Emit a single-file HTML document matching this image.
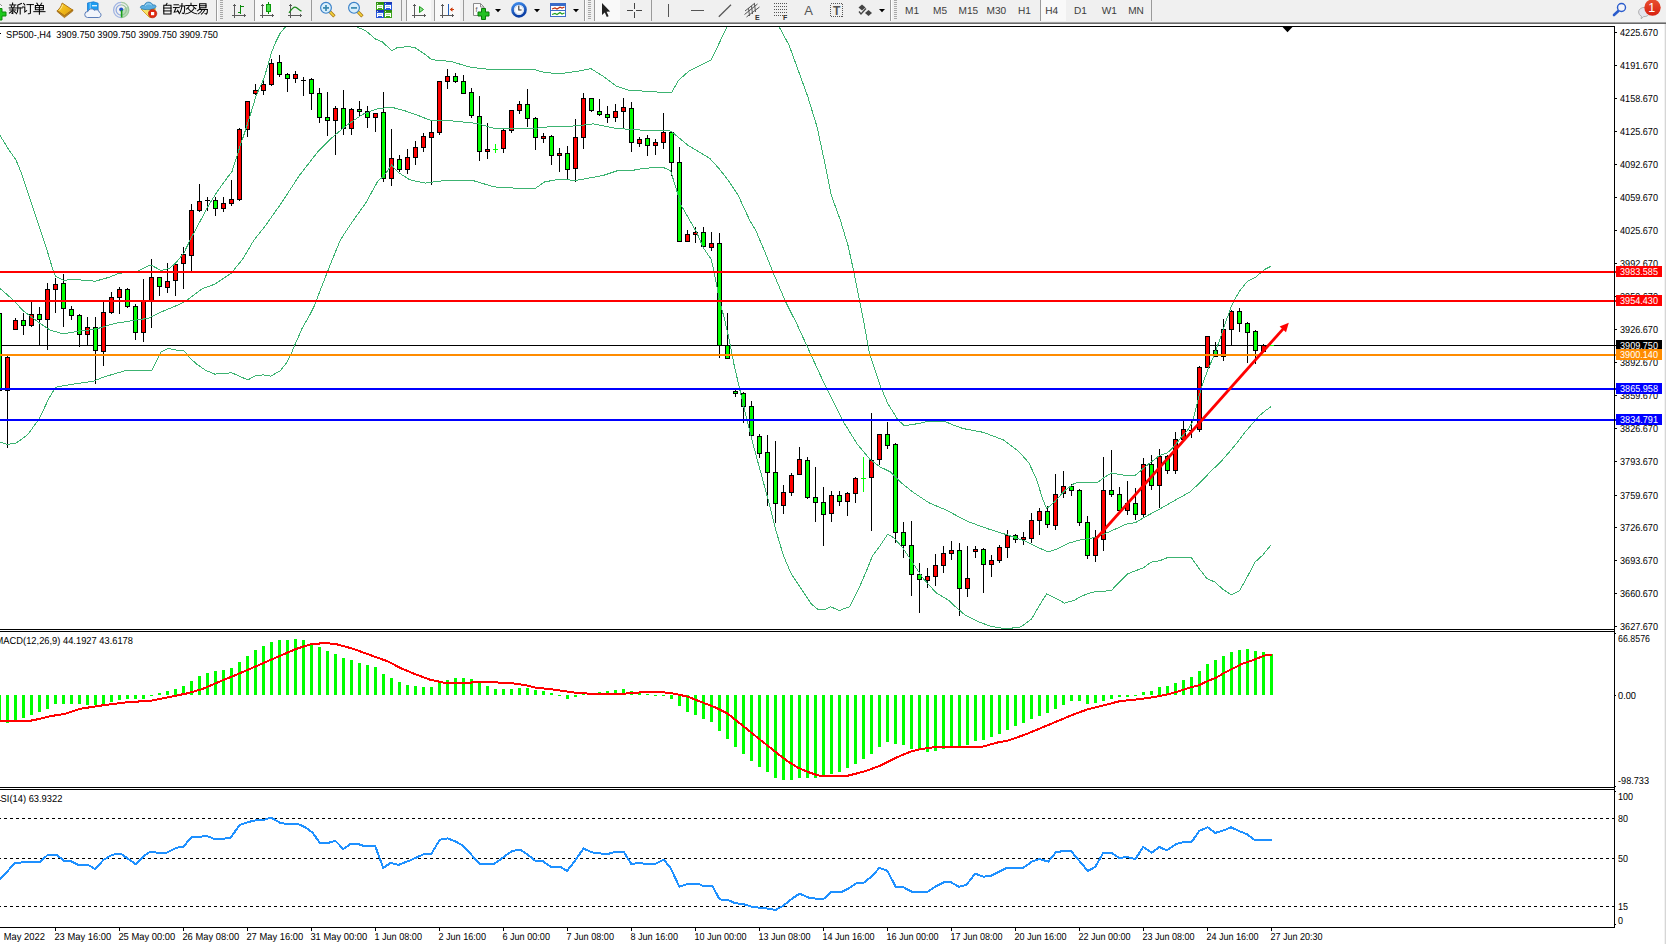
<!DOCTYPE html><html><head><meta charset="utf-8"><title>SP500 H4</title><style>html,body{margin:0;padding:0;background:#fff;overflow:hidden}body{width:1666px;height:944px;position:relative}svg{position:absolute;left:0;top:0;font-family:"Liberation Sans",sans-serif}</style></head><body>
<svg width="1666" height="944" viewBox="0 0 1666 944">
<g shape-rendering="crispEdges">
<rect x="0" y="26" width="1615" height="1" fill="#000"/>
<rect x="1614" y="26" width="1" height="902" fill="#000"/>
<rect x="0" y="629" width="1615" height="1" fill="#000"/>
<rect x="0" y="631" width="1615" height="1" fill="#000"/>
<rect x="0" y="787" width="1615" height="1" fill="#000"/>
<rect x="0" y="789" width="1615" height="1" fill="#000"/>
<rect x="0" y="927" width="1615" height="1" fill="#000"/>
</g>
<defs><clipPath id="cm"><rect x="0" y="27" width="1614" height="602"/></clipPath></defs>
<g shape-rendering="crispEdges">
<rect x="0" y="345" width="1616" height="1" fill="#000"/>
</g>
<g clip-path="url(#cm)" shape-rendering="crispEdges">
<rect x="-1" y="313" width="1" height="78" fill="#000"/>
<rect x="-3" y="313" width="5" height="78" fill="#000"/>
<rect x="-2" y="314" width="3" height="76" fill="#00ff00"/>
<rect x="7" y="356" width="1" height="92" fill="#000"/>
<rect x="5" y="357" width="5" height="34" fill="#000"/>
<rect x="6" y="358" width="3" height="32" fill="#ff0000"/>
<rect x="15" y="318" width="1" height="12" fill="#000"/>
<rect x="13" y="320" width="5" height="10" fill="#000"/>
<rect x="14" y="321" width="3" height="8" fill="#ff0000"/>
<rect x="23" y="313" width="1" height="22" fill="#000"/>
<rect x="21" y="320" width="5" height="6" fill="#000"/>
<rect x="22" y="321" width="3" height="4" fill="#00ff00"/>
<rect x="31" y="302" width="1" height="25" fill="#000"/>
<rect x="29" y="314" width="5" height="12" fill="#000"/>
<rect x="30" y="315" width="3" height="10" fill="#ff0000"/>
<rect x="39" y="307" width="1" height="38" fill="#000"/>
<rect x="37" y="314" width="5" height="6" fill="#000"/>
<rect x="38" y="315" width="3" height="4" fill="#00ff00"/>
<rect x="47" y="283" width="1" height="67" fill="#000"/>
<rect x="45" y="289" width="5" height="31" fill="#000"/>
<rect x="46" y="290" width="3" height="29" fill="#ff0000"/>
<rect x="55" y="278" width="1" height="35" fill="#000"/>
<rect x="53" y="284" width="5" height="6" fill="#000"/>
<rect x="54" y="285" width="3" height="4" fill="#ff0000"/>
<rect x="63" y="274" width="1" height="53" fill="#000"/>
<rect x="61" y="283" width="5" height="26" fill="#000"/>
<rect x="62" y="284" width="3" height="24" fill="#00ff00"/>
<rect x="71" y="306" width="1" height="14" fill="#000"/>
<rect x="69" y="309" width="5" height="7" fill="#000"/>
<rect x="70" y="310" width="3" height="5" fill="#00ff00"/>
<rect x="79" y="314" width="1" height="33" fill="#000"/>
<rect x="77" y="315" width="5" height="20" fill="#000"/>
<rect x="78" y="316" width="3" height="18" fill="#00ff00"/>
<rect x="87" y="317" width="1" height="28" fill="#000"/>
<rect x="85" y="327" width="5" height="8" fill="#000"/>
<rect x="86" y="328" width="3" height="6" fill="#ff0000"/>
<rect x="95" y="317" width="1" height="67" fill="#000"/>
<rect x="93" y="327" width="5" height="24" fill="#000"/>
<rect x="94" y="328" width="3" height="22" fill="#00ff00"/>
<rect x="103" y="302" width="1" height="64" fill="#000"/>
<rect x="101" y="312" width="5" height="40" fill="#000"/>
<rect x="102" y="313" width="3" height="38" fill="#ff0000"/>
<rect x="111" y="292" width="1" height="22" fill="#000"/>
<rect x="109" y="297" width="5" height="16" fill="#000"/>
<rect x="110" y="298" width="3" height="14" fill="#ff0000"/>
<rect x="119" y="287" width="1" height="27" fill="#000"/>
<rect x="117" y="289" width="5" height="9" fill="#000"/>
<rect x="118" y="290" width="3" height="7" fill="#ff0000"/>
<rect x="127" y="288" width="1" height="20" fill="#000"/>
<rect x="125" y="289" width="5" height="18" fill="#000"/>
<rect x="126" y="290" width="3" height="16" fill="#00ff00"/>
<rect x="135" y="304" width="1" height="36" fill="#000"/>
<rect x="133" y="306" width="5" height="27" fill="#000"/>
<rect x="134" y="307" width="3" height="25" fill="#00ff00"/>
<rect x="143" y="279" width="1" height="63" fill="#000"/>
<rect x="141" y="300" width="5" height="33" fill="#000"/>
<rect x="142" y="301" width="3" height="31" fill="#ff0000"/>
<rect x="151" y="259" width="1" height="69" fill="#000"/>
<rect x="149" y="277" width="5" height="24" fill="#000"/>
<rect x="150" y="278" width="3" height="22" fill="#ff0000"/>
<rect x="159" y="277" width="1" height="19" fill="#000"/>
<rect x="157" y="277" width="5" height="10" fill="#000"/>
<rect x="158" y="278" width="3" height="8" fill="#00ff00"/>
<rect x="167" y="263" width="1" height="30" fill="#000"/>
<rect x="165" y="281" width="5" height="7" fill="#000"/>
<rect x="166" y="282" width="3" height="5" fill="#ff0000"/>
<rect x="175" y="263" width="1" height="33" fill="#000"/>
<rect x="173" y="264" width="5" height="17" fill="#000"/>
<rect x="174" y="265" width="3" height="15" fill="#ff0000"/>
<rect x="183" y="247" width="1" height="42" fill="#000"/>
<rect x="181" y="254" width="5" height="10" fill="#000"/>
<rect x="182" y="255" width="3" height="8" fill="#ff0000"/>
<rect x="191" y="204" width="1" height="67" fill="#000"/>
<rect x="189" y="210" width="5" height="46" fill="#000"/>
<rect x="190" y="211" width="3" height="44" fill="#ff0000"/>
<rect x="199" y="184" width="1" height="28" fill="#000"/>
<rect x="197" y="201" width="5" height="10" fill="#000"/>
<rect x="198" y="202" width="3" height="8" fill="#ff0000"/>
<rect x="207" y="197" width="1" height="14" fill="#000"/>
<rect x="205" y="200" width="5" height="1" fill="#000"/>
<rect x="215" y="197" width="1" height="19" fill="#000"/>
<rect x="213" y="200" width="5" height="9" fill="#000"/>
<rect x="214" y="201" width="3" height="7" fill="#00ff00"/>
<rect x="223" y="197" width="1" height="15" fill="#000"/>
<rect x="221" y="203" width="5" height="6" fill="#000"/>
<rect x="222" y="204" width="3" height="4" fill="#ff0000"/>
<rect x="231" y="180" width="1" height="26" fill="#000"/>
<rect x="229" y="199" width="5" height="5" fill="#000"/>
<rect x="230" y="200" width="3" height="3" fill="#ff0000"/>
<rect x="239" y="128" width="1" height="73" fill="#000"/>
<rect x="237" y="129" width="5" height="71" fill="#000"/>
<rect x="238" y="130" width="3" height="69" fill="#ff0000"/>
<rect x="247" y="101" width="1" height="36" fill="#000"/>
<rect x="245" y="101" width="5" height="29" fill="#000"/>
<rect x="246" y="102" width="3" height="27" fill="#ff0000"/>
<rect x="255" y="84" width="1" height="11" fill="#000"/>
<rect x="253" y="90" width="5" height="4" fill="#000"/>
<rect x="254" y="91" width="3" height="2" fill="#ff0000"/>
<rect x="263" y="79" width="1" height="16" fill="#000"/>
<rect x="261" y="84" width="5" height="7" fill="#000"/>
<rect x="262" y="85" width="3" height="5" fill="#ff0000"/>
<rect x="271" y="59" width="1" height="27" fill="#000"/>
<rect x="269" y="63" width="5" height="22" fill="#000"/>
<rect x="270" y="64" width="3" height="20" fill="#ff0000"/>
<rect x="279" y="55" width="1" height="22" fill="#000"/>
<rect x="277" y="62" width="5" height="13" fill="#000"/>
<rect x="278" y="63" width="3" height="11" fill="#00ff00"/>
<rect x="287" y="73" width="1" height="19" fill="#000"/>
<rect x="285" y="74" width="5" height="5" fill="#000"/>
<rect x="286" y="75" width="3" height="3" fill="#00ff00"/>
<rect x="295" y="71" width="1" height="12" fill="#000"/>
<rect x="293" y="74" width="5" height="5" fill="#000"/>
<rect x="294" y="75" width="3" height="3" fill="#ff0000"/>
<rect x="303" y="77" width="1" height="19" fill="#000"/>
<rect x="301" y="80" width="5" height="1" fill="#000"/>
<rect x="311" y="78" width="1" height="32" fill="#000"/>
<rect x="309" y="79" width="5" height="15" fill="#000"/>
<rect x="310" y="80" width="3" height="13" fill="#00ff00"/>
<rect x="319" y="88" width="1" height="35" fill="#000"/>
<rect x="317" y="93" width="5" height="25" fill="#000"/>
<rect x="318" y="94" width="3" height="23" fill="#00ff00"/>
<rect x="327" y="92" width="1" height="44" fill="#000"/>
<rect x="325" y="117" width="5" height="4" fill="#000"/>
<rect x="326" y="118" width="3" height="2" fill="#00ff00"/>
<rect x="335" y="106" width="1" height="49" fill="#000"/>
<rect x="333" y="108" width="5" height="13" fill="#000"/>
<rect x="334" y="109" width="3" height="11" fill="#ff0000"/>
<rect x="343" y="90" width="1" height="45" fill="#000"/>
<rect x="341" y="108" width="5" height="21" fill="#000"/>
<rect x="342" y="109" width="3" height="19" fill="#00ff00"/>
<rect x="351" y="108" width="1" height="27" fill="#000"/>
<rect x="349" y="109" width="5" height="20" fill="#000"/>
<rect x="350" y="110" width="3" height="18" fill="#ff0000"/>
<rect x="359" y="101" width="1" height="15" fill="#000"/>
<rect x="357" y="109" width="5" height="3" fill="#000"/>
<rect x="358" y="110" width="3" height="1" fill="#00ff00"/>
<rect x="367" y="106" width="1" height="22" fill="#000"/>
<rect x="365" y="111" width="5" height="7" fill="#000"/>
<rect x="366" y="112" width="3" height="5" fill="#00ff00"/>
<rect x="375" y="113" width="1" height="19" fill="#000"/>
<rect x="373" y="113" width="5" height="5" fill="#000"/>
<rect x="374" y="114" width="3" height="3" fill="#ff0000"/>
<rect x="383" y="92" width="1" height="90" fill="#000"/>
<rect x="381" y="112" width="5" height="67" fill="#000"/>
<rect x="382" y="113" width="3" height="65" fill="#00ff00"/>
<rect x="391" y="129" width="1" height="57" fill="#000"/>
<rect x="389" y="158" width="5" height="21" fill="#000"/>
<rect x="390" y="159" width="3" height="19" fill="#ff0000"/>
<rect x="399" y="155" width="1" height="17" fill="#000"/>
<rect x="397" y="159" width="5" height="11" fill="#000"/>
<rect x="398" y="160" width="3" height="9" fill="#00ff00"/>
<rect x="407" y="149" width="1" height="25" fill="#000"/>
<rect x="405" y="157" width="5" height="13" fill="#000"/>
<rect x="406" y="158" width="3" height="11" fill="#ff0000"/>
<rect x="415" y="141" width="1" height="24" fill="#000"/>
<rect x="413" y="147" width="5" height="11" fill="#000"/>
<rect x="414" y="148" width="3" height="9" fill="#ff0000"/>
<rect x="423" y="133" width="1" height="19" fill="#000"/>
<rect x="421" y="136" width="5" height="12" fill="#000"/>
<rect x="422" y="137" width="3" height="10" fill="#ff0000"/>
<rect x="431" y="121" width="1" height="64" fill="#000"/>
<rect x="429" y="132" width="5" height="6" fill="#000"/>
<rect x="430" y="133" width="3" height="4" fill="#ff0000"/>
<rect x="439" y="81" width="1" height="54" fill="#000"/>
<rect x="437" y="81" width="5" height="52" fill="#000"/>
<rect x="438" y="82" width="3" height="50" fill="#ff0000"/>
<rect x="447" y="69" width="1" height="20" fill="#000"/>
<rect x="445" y="76" width="5" height="6" fill="#000"/>
<rect x="446" y="77" width="3" height="4" fill="#ff0000"/>
<rect x="455" y="73" width="1" height="10" fill="#000"/>
<rect x="453" y="76" width="5" height="6" fill="#000"/>
<rect x="454" y="77" width="3" height="4" fill="#00ff00"/>
<rect x="463" y="75" width="1" height="19" fill="#000"/>
<rect x="461" y="81" width="5" height="13" fill="#000"/>
<rect x="462" y="82" width="3" height="11" fill="#00ff00"/>
<rect x="471" y="88" width="1" height="30" fill="#000"/>
<rect x="469" y="92" width="5" height="24" fill="#000"/>
<rect x="470" y="93" width="3" height="22" fill="#00ff00"/>
<rect x="479" y="96" width="1" height="65" fill="#000"/>
<rect x="477" y="116" width="5" height="36" fill="#000"/>
<rect x="478" y="117" width="3" height="34" fill="#00ff00"/>
<rect x="487" y="123" width="1" height="36" fill="#000"/>
<rect x="485" y="149" width="5" height="3" fill="#000"/>
<rect x="486" y="150" width="3" height="1" fill="#ff0000"/>
<rect x="495" y="144" width="1" height="9" fill="#00ff00"/>
<rect x="493" y="149" width="5" height="1" fill="#00ff00"/>
<rect x="503" y="129" width="1" height="24" fill="#000"/>
<rect x="501" y="130" width="5" height="19" fill="#000"/>
<rect x="502" y="131" width="3" height="17" fill="#ff0000"/>
<rect x="511" y="110" width="1" height="23" fill="#000"/>
<rect x="509" y="110" width="5" height="21" fill="#000"/>
<rect x="510" y="111" width="3" height="19" fill="#ff0000"/>
<rect x="519" y="101" width="1" height="13" fill="#000"/>
<rect x="517" y="104" width="5" height="7" fill="#000"/>
<rect x="518" y="105" width="3" height="5" fill="#ff0000"/>
<rect x="527" y="89" width="1" height="38" fill="#000"/>
<rect x="525" y="104" width="5" height="15" fill="#000"/>
<rect x="526" y="105" width="3" height="13" fill="#00ff00"/>
<rect x="535" y="117" width="1" height="33" fill="#000"/>
<rect x="533" y="118" width="5" height="20" fill="#000"/>
<rect x="534" y="119" width="3" height="18" fill="#00ff00"/>
<rect x="543" y="133" width="1" height="10" fill="#000"/>
<rect x="541" y="136" width="5" height="3" fill="#000"/>
<rect x="542" y="137" width="3" height="1" fill="#ff0000"/>
<rect x="551" y="135" width="1" height="30" fill="#000"/>
<rect x="549" y="136" width="5" height="20" fill="#000"/>
<rect x="550" y="137" width="3" height="18" fill="#00ff00"/>
<rect x="559" y="148" width="1" height="24" fill="#000"/>
<rect x="557" y="153" width="5" height="3" fill="#000"/>
<rect x="558" y="154" width="3" height="1" fill="#ff0000"/>
<rect x="567" y="146" width="1" height="34" fill="#000"/>
<rect x="565" y="153" width="5" height="17" fill="#000"/>
<rect x="566" y="154" width="3" height="15" fill="#00ff00"/>
<rect x="575" y="119" width="1" height="63" fill="#000"/>
<rect x="573" y="137" width="5" height="32" fill="#000"/>
<rect x="574" y="138" width="3" height="30" fill="#ff0000"/>
<rect x="583" y="93" width="1" height="56" fill="#000"/>
<rect x="581" y="98" width="5" height="40" fill="#000"/>
<rect x="582" y="99" width="3" height="38" fill="#ff0000"/>
<rect x="591" y="98" width="1" height="14" fill="#000"/>
<rect x="589" y="98" width="5" height="13" fill="#000"/>
<rect x="590" y="99" width="3" height="11" fill="#00ff00"/>
<rect x="599" y="99" width="1" height="17" fill="#000"/>
<rect x="597" y="111" width="5" height="4" fill="#000"/>
<rect x="598" y="112" width="3" height="2" fill="#00ff00"/>
<rect x="607" y="106" width="1" height="17" fill="#000"/>
<rect x="605" y="114" width="5" height="4" fill="#000"/>
<rect x="606" y="115" width="3" height="2" fill="#00ff00"/>
<rect x="615" y="104" width="1" height="18" fill="#000"/>
<rect x="613" y="111" width="5" height="7" fill="#000"/>
<rect x="614" y="112" width="3" height="5" fill="#ff0000"/>
<rect x="623" y="98" width="1" height="31" fill="#000"/>
<rect x="621" y="107" width="5" height="5" fill="#000"/>
<rect x="622" y="108" width="3" height="3" fill="#ff0000"/>
<rect x="631" y="102" width="1" height="50" fill="#000"/>
<rect x="629" y="108" width="5" height="35" fill="#000"/>
<rect x="630" y="109" width="3" height="33" fill="#00ff00"/>
<rect x="639" y="137" width="1" height="10" fill="#000"/>
<rect x="637" y="139" width="5" height="5" fill="#000"/>
<rect x="638" y="140" width="3" height="3" fill="#ff0000"/>
<rect x="647" y="135" width="1" height="21" fill="#000"/>
<rect x="645" y="138" width="5" height="8" fill="#000"/>
<rect x="646" y="139" width="3" height="6" fill="#00ff00"/>
<rect x="655" y="139" width="1" height="16" fill="#000"/>
<rect x="653" y="142" width="5" height="4" fill="#000"/>
<rect x="654" y="143" width="3" height="2" fill="#ff0000"/>
<rect x="663" y="113" width="1" height="36" fill="#000"/>
<rect x="661" y="132" width="5" height="11" fill="#000"/>
<rect x="662" y="133" width="3" height="9" fill="#ff0000"/>
<rect x="671" y="132" width="1" height="44" fill="#000"/>
<rect x="669" y="132" width="5" height="31" fill="#000"/>
<rect x="670" y="133" width="3" height="29" fill="#00ff00"/>
<rect x="679" y="147" width="1" height="95" fill="#000"/>
<rect x="677" y="162" width="5" height="80" fill="#000"/>
<rect x="678" y="163" width="3" height="78" fill="#00ff00"/>
<rect x="687" y="230" width="1" height="12" fill="#000"/>
<rect x="685" y="234" width="5" height="8" fill="#000"/>
<rect x="686" y="235" width="3" height="6" fill="#ff0000"/>
<rect x="695" y="227" width="1" height="16" fill="#000"/>
<rect x="693" y="232" width="5" height="3" fill="#000"/>
<rect x="694" y="233" width="3" height="1" fill="#ff0000"/>
<rect x="703" y="227" width="1" height="22" fill="#000"/>
<rect x="701" y="232" width="5" height="15" fill="#000"/>
<rect x="702" y="233" width="3" height="13" fill="#00ff00"/>
<rect x="711" y="232" width="1" height="19" fill="#000"/>
<rect x="709" y="243" width="5" height="5" fill="#000"/>
<rect x="710" y="244" width="3" height="3" fill="#ff0000"/>
<rect x="719" y="233" width="1" height="125" fill="#000"/>
<rect x="717" y="243" width="5" height="103" fill="#000"/>
<rect x="718" y="244" width="3" height="101" fill="#00ff00"/>
<rect x="727" y="313" width="1" height="46" fill="#000"/>
<rect x="725" y="345" width="5" height="14" fill="#000"/>
<rect x="726" y="346" width="3" height="12" fill="#00ff00"/>
<rect x="735" y="390" width="1" height="7" fill="#000"/>
<rect x="733" y="391" width="5" height="3" fill="#000"/>
<rect x="734" y="392" width="3" height="1" fill="#00ff00"/>
<rect x="743" y="392" width="1" height="31" fill="#000"/>
<rect x="741" y="393" width="5" height="14" fill="#000"/>
<rect x="742" y="394" width="3" height="12" fill="#00ff00"/>
<rect x="751" y="401" width="1" height="35" fill="#000"/>
<rect x="749" y="406" width="5" height="30" fill="#000"/>
<rect x="750" y="407" width="3" height="28" fill="#00ff00"/>
<rect x="759" y="434" width="1" height="24" fill="#000"/>
<rect x="757" y="436" width="5" height="18" fill="#000"/>
<rect x="758" y="437" width="3" height="16" fill="#00ff00"/>
<rect x="767" y="435" width="1" height="71" fill="#000"/>
<rect x="765" y="452" width="5" height="21" fill="#000"/>
<rect x="766" y="453" width="3" height="19" fill="#00ff00"/>
<rect x="775" y="441" width="1" height="82" fill="#000"/>
<rect x="773" y="472" width="5" height="32" fill="#000"/>
<rect x="774" y="473" width="3" height="30" fill="#00ff00"/>
<rect x="783" y="485" width="1" height="29" fill="#000"/>
<rect x="781" y="492" width="5" height="14" fill="#000"/>
<rect x="782" y="493" width="3" height="12" fill="#ff0000"/>
<rect x="791" y="473" width="1" height="23" fill="#000"/>
<rect x="789" y="475" width="5" height="18" fill="#000"/>
<rect x="790" y="476" width="3" height="16" fill="#ff0000"/>
<rect x="799" y="447" width="1" height="28" fill="#000"/>
<rect x="797" y="459" width="5" height="16" fill="#000"/>
<rect x="798" y="460" width="3" height="14" fill="#ff0000"/>
<rect x="807" y="457" width="1" height="42" fill="#000"/>
<rect x="805" y="460" width="5" height="38" fill="#000"/>
<rect x="806" y="461" width="3" height="36" fill="#00ff00"/>
<rect x="815" y="467" width="1" height="55" fill="#000"/>
<rect x="813" y="497" width="5" height="6" fill="#000"/>
<rect x="814" y="498" width="3" height="4" fill="#00ff00"/>
<rect x="823" y="487" width="1" height="59" fill="#000"/>
<rect x="821" y="502" width="5" height="13" fill="#000"/>
<rect x="822" y="503" width="3" height="11" fill="#00ff00"/>
<rect x="831" y="491" width="1" height="31" fill="#000"/>
<rect x="829" y="495" width="5" height="19" fill="#000"/>
<rect x="830" y="496" width="3" height="17" fill="#ff0000"/>
<rect x="839" y="491" width="1" height="15" fill="#000"/>
<rect x="837" y="495" width="5" height="7" fill="#000"/>
<rect x="838" y="496" width="3" height="5" fill="#00ff00"/>
<rect x="847" y="492" width="1" height="24" fill="#000"/>
<rect x="845" y="493" width="5" height="9" fill="#000"/>
<rect x="846" y="494" width="3" height="7" fill="#ff0000"/>
<rect x="855" y="477" width="1" height="26" fill="#000"/>
<rect x="853" y="478" width="5" height="16" fill="#000"/>
<rect x="854" y="479" width="3" height="14" fill="#ff0000"/>
<rect x="863" y="457" width="1" height="35" fill="#00ff00"/>
<rect x="861" y="478" width="5" height="1" fill="#00ff00"/>
<rect x="871" y="413" width="1" height="118" fill="#000"/>
<rect x="869" y="460" width="5" height="18" fill="#000"/>
<rect x="870" y="461" width="3" height="16" fill="#ff0000"/>
<rect x="879" y="434" width="1" height="31" fill="#000"/>
<rect x="877" y="434" width="5" height="26" fill="#000"/>
<rect x="878" y="435" width="3" height="24" fill="#ff0000"/>
<rect x="887" y="422" width="1" height="27" fill="#000"/>
<rect x="885" y="434" width="5" height="12" fill="#000"/>
<rect x="886" y="435" width="3" height="10" fill="#00ff00"/>
<rect x="895" y="443" width="1" height="100" fill="#000"/>
<rect x="893" y="444" width="5" height="89" fill="#000"/>
<rect x="894" y="445" width="3" height="87" fill="#00ff00"/>
<rect x="903" y="522" width="1" height="36" fill="#000"/>
<rect x="901" y="532" width="5" height="14" fill="#000"/>
<rect x="902" y="533" width="3" height="12" fill="#00ff00"/>
<rect x="911" y="521" width="1" height="75" fill="#000"/>
<rect x="909" y="545" width="5" height="30" fill="#000"/>
<rect x="910" y="546" width="3" height="28" fill="#00ff00"/>
<rect x="919" y="563" width="1" height="50" fill="#000"/>
<rect x="917" y="574" width="5" height="6" fill="#000"/>
<rect x="918" y="575" width="3" height="4" fill="#00ff00"/>
<rect x="927" y="568" width="1" height="20" fill="#000"/>
<rect x="925" y="576" width="5" height="5" fill="#000"/>
<rect x="926" y="577" width="3" height="3" fill="#ff0000"/>
<rect x="935" y="554" width="1" height="32" fill="#000"/>
<rect x="933" y="565" width="5" height="12" fill="#000"/>
<rect x="934" y="566" width="3" height="10" fill="#ff0000"/>
<rect x="943" y="546" width="1" height="27" fill="#000"/>
<rect x="941" y="553" width="5" height="13" fill="#000"/>
<rect x="942" y="554" width="3" height="11" fill="#ff0000"/>
<rect x="951" y="541" width="1" height="19" fill="#000"/>
<rect x="949" y="550" width="5" height="4" fill="#000"/>
<rect x="950" y="551" width="3" height="2" fill="#ff0000"/>
<rect x="959" y="543" width="1" height="73" fill="#000"/>
<rect x="957" y="550" width="5" height="39" fill="#000"/>
<rect x="958" y="551" width="3" height="37" fill="#00ff00"/>
<rect x="967" y="546" width="1" height="51" fill="#000"/>
<rect x="965" y="578" width="5" height="11" fill="#000"/>
<rect x="966" y="579" width="3" height="9" fill="#ff0000"/>
<rect x="975" y="546" width="1" height="12" fill="#000"/>
<rect x="973" y="549" width="5" height="3" fill="#000"/>
<rect x="974" y="550" width="3" height="1" fill="#ff0000"/>
<rect x="983" y="548" width="1" height="45" fill="#000"/>
<rect x="981" y="549" width="5" height="16" fill="#000"/>
<rect x="982" y="550" width="3" height="14" fill="#00ff00"/>
<rect x="991" y="555" width="1" height="22" fill="#000"/>
<rect x="989" y="560" width="5" height="5" fill="#000"/>
<rect x="990" y="561" width="3" height="3" fill="#ff0000"/>
<rect x="999" y="545" width="1" height="18" fill="#000"/>
<rect x="997" y="547" width="5" height="14" fill="#000"/>
<rect x="998" y="548" width="3" height="12" fill="#ff0000"/>
<rect x="1007" y="530" width="1" height="28" fill="#000"/>
<rect x="1005" y="535" width="5" height="13" fill="#000"/>
<rect x="1006" y="536" width="3" height="11" fill="#ff0000"/>
<rect x="1015" y="534" width="1" height="9" fill="#000"/>
<rect x="1013" y="535" width="5" height="5" fill="#000"/>
<rect x="1014" y="536" width="3" height="3" fill="#00ff00"/>
<rect x="1023" y="532" width="1" height="13" fill="#000"/>
<rect x="1021" y="537" width="5" height="3" fill="#000"/>
<rect x="1022" y="538" width="3" height="1" fill="#ff0000"/>
<rect x="1031" y="513" width="1" height="30" fill="#000"/>
<rect x="1029" y="520" width="5" height="19" fill="#000"/>
<rect x="1030" y="521" width="3" height="17" fill="#ff0000"/>
<rect x="1039" y="508" width="1" height="27" fill="#000"/>
<rect x="1037" y="511" width="5" height="10" fill="#000"/>
<rect x="1038" y="512" width="3" height="8" fill="#ff0000"/>
<rect x="1047" y="506" width="1" height="22" fill="#000"/>
<rect x="1045" y="511" width="5" height="14" fill="#000"/>
<rect x="1046" y="512" width="3" height="12" fill="#00ff00"/>
<rect x="1055" y="474" width="1" height="56" fill="#000"/>
<rect x="1053" y="494" width="5" height="32" fill="#000"/>
<rect x="1054" y="495" width="3" height="30" fill="#ff0000"/>
<rect x="1063" y="471" width="1" height="27" fill="#000"/>
<rect x="1061" y="486" width="5" height="8" fill="#000"/>
<rect x="1062" y="487" width="3" height="6" fill="#ff0000"/>
<rect x="1071" y="484" width="1" height="12" fill="#000"/>
<rect x="1069" y="486" width="5" height="5" fill="#000"/>
<rect x="1070" y="487" width="3" height="3" fill="#00ff00"/>
<rect x="1079" y="489" width="1" height="37" fill="#000"/>
<rect x="1077" y="490" width="5" height="33" fill="#000"/>
<rect x="1078" y="491" width="3" height="31" fill="#00ff00"/>
<rect x="1087" y="516" width="1" height="43" fill="#000"/>
<rect x="1085" y="522" width="5" height="34" fill="#000"/>
<rect x="1086" y="523" width="3" height="32" fill="#00ff00"/>
<rect x="1095" y="530" width="1" height="32" fill="#000"/>
<rect x="1093" y="538" width="5" height="18" fill="#000"/>
<rect x="1094" y="539" width="3" height="16" fill="#ff0000"/>
<rect x="1103" y="457" width="1" height="94" fill="#000"/>
<rect x="1101" y="490" width="5" height="50" fill="#000"/>
<rect x="1102" y="491" width="3" height="48" fill="#ff0000"/>
<rect x="1111" y="450" width="1" height="47" fill="#000"/>
<rect x="1109" y="490" width="5" height="5" fill="#000"/>
<rect x="1110" y="491" width="3" height="3" fill="#00ff00"/>
<rect x="1119" y="487" width="1" height="25" fill="#000"/>
<rect x="1117" y="494" width="5" height="17" fill="#000"/>
<rect x="1118" y="495" width="3" height="15" fill="#00ff00"/>
<rect x="1127" y="481" width="1" height="34" fill="#000"/>
<rect x="1125" y="503" width="5" height="8" fill="#000"/>
<rect x="1126" y="504" width="3" height="6" fill="#ff0000"/>
<rect x="1135" y="488" width="1" height="32" fill="#000"/>
<rect x="1133" y="503" width="5" height="12" fill="#000"/>
<rect x="1134" y="504" width="3" height="10" fill="#00ff00"/>
<rect x="1143" y="458" width="1" height="59" fill="#000"/>
<rect x="1141" y="464" width="5" height="51" fill="#000"/>
<rect x="1142" y="465" width="3" height="49" fill="#ff0000"/>
<rect x="1151" y="455" width="1" height="35" fill="#000"/>
<rect x="1149" y="464" width="5" height="22" fill="#000"/>
<rect x="1150" y="465" width="3" height="20" fill="#00ff00"/>
<rect x="1159" y="449" width="1" height="59" fill="#000"/>
<rect x="1157" y="456" width="5" height="30" fill="#000"/>
<rect x="1158" y="457" width="3" height="28" fill="#ff0000"/>
<rect x="1167" y="455" width="1" height="19" fill="#000"/>
<rect x="1165" y="456" width="5" height="15" fill="#000"/>
<rect x="1166" y="457" width="3" height="13" fill="#00ff00"/>
<rect x="1175" y="432" width="1" height="42" fill="#000"/>
<rect x="1173" y="439" width="5" height="32" fill="#000"/>
<rect x="1174" y="440" width="3" height="30" fill="#ff0000"/>
<rect x="1183" y="421" width="1" height="19" fill="#000"/>
<rect x="1181" y="429" width="5" height="11" fill="#000"/>
<rect x="1182" y="430" width="3" height="9" fill="#ff0000"/>
<rect x="1191" y="421" width="1" height="17" fill="#000"/>
<rect x="1189" y="430" width="5" height="1" fill="#000"/>
<rect x="1199" y="366" width="1" height="66" fill="#000"/>
<rect x="1197" y="367" width="5" height="63" fill="#000"/>
<rect x="1198" y="368" width="3" height="61" fill="#ff0000"/>
<rect x="1207" y="336" width="1" height="32" fill="#000"/>
<rect x="1205" y="336" width="5" height="32" fill="#000"/>
<rect x="1206" y="337" width="3" height="30" fill="#ff0000"/>
<rect x="1215" y="342" width="1" height="15" fill="#000"/>
<rect x="1213" y="350" width="5" height="7" fill="#000"/>
<rect x="1214" y="351" width="3" height="5" fill="#00ff00"/>
<rect x="1223" y="319" width="1" height="42" fill="#000"/>
<rect x="1221" y="329" width="5" height="28" fill="#000"/>
<rect x="1222" y="330" width="3" height="26" fill="#ff0000"/>
<rect x="1231" y="310" width="1" height="36" fill="#000"/>
<rect x="1229" y="311" width="5" height="19" fill="#000"/>
<rect x="1230" y="312" width="3" height="17" fill="#ff0000"/>
<rect x="1239" y="308" width="1" height="24" fill="#000"/>
<rect x="1237" y="311" width="5" height="13" fill="#000"/>
<rect x="1238" y="312" width="3" height="11" fill="#00ff00"/>
<rect x="1247" y="322" width="1" height="41" fill="#000"/>
<rect x="1245" y="323" width="5" height="10" fill="#000"/>
<rect x="1246" y="324" width="3" height="8" fill="#00ff00"/>
<rect x="1255" y="330" width="1" height="34" fill="#000"/>
<rect x="1253" y="331" width="5" height="20" fill="#000"/>
<rect x="1254" y="332" width="3" height="18" fill="#00ff00"/>
<rect x="1263" y="344" width="1" height="8" fill="#000"/>
<rect x="1261" y="345" width="5" height="7" fill="#000"/>
<rect x="1262" y="346" width="3" height="5" fill="#ff0000"/>
<rect x="1269" y="345" width="5" height="1" fill="#00ff00"/>
</g>
<g clip-path="url(#cm)" shape-rendering="crispEdges">
<polyline points="0.0,135.5 8.5,149.2 15.9,159.8 21.2,172.5 29.7,198.0 38.1,223.4 46.6,248.8 53.0,270.0 55.5,276.3 63.6,280.5 69.9,279.5 84.7,280.2 95.3,281.2 110.0,277.0 118.6,273.4 137.7,271.0 148.3,265.8 151.5,265.3 161.0,270.5 169.5,268.5 173.2,265.2 177.5,260.9 184.0,252.8 190.5,239.2 199.2,223.0 207.8,206.8 216.4,192.8 227.2,177.7 232.0,171.5 239.7,147.3 247.4,124.4 256.3,95.2 263.9,78.5 268.6,62.9 271.5,52.4 275.4,42.8 280.2,33.1 285.0,27.4 293.0,12.5 320.0,-4.5 348.0,12.5 358.0,27.4 365.7,30.7 375.3,38.9 382.5,42.0 391.6,50.6 398.3,47.1 410.8,46.9 415.3,47.8 425.4,54.7 431.8,59.7 450.9,61.5 471.2,67.4 494.1,69.9 532.2,69.1 544.9,72.5 560.2,73.7 578.0,71.2 590.7,68.6 603.4,76.3 616.1,85.9 628.8,90.3 640.0,90.9 658.6,92.1 671.5,92.8 678.5,80.4 688.9,71.1 711.1,59.9 718.1,45.5 726.7,27.3 735.0,10.5 752.0,-4.5 771.0,10.5 779.4,27.3 789.2,45.5 798.5,71.1 807.8,96.7 817.1,127.0 824.1,159.7 831.1,194.6 840.4,220.3 843.5,230.5 848.0,245.5 854.0,272.5 859.7,301.1 864.5,325.8 869.3,352.5 880.1,385.5 887.7,403.3 897.9,419.8 904.3,425.7 918.2,423.6 928.4,421.1 943.7,421.1 956.4,426.2 962.8,428.5 983.1,432.3 1003.5,439.9 1018.7,451.4 1028.9,462.8 1036.5,479.3 1042.9,499.7 1046.7,508.5 1054.3,502.2 1064.5,490.8 1074.7,483.1 1087.4,482.4 1097.6,482.4 1105.2,476.8 1111.5,473.0 1123.0,475.0 1135.7,475.0 1148.4,464.1 1160.0,455.2 1166.9,453.2 1172.4,448.3 1180.7,438.0 1187.5,430.4 1192.4,422.2 1195.1,411.2 1197.9,400.1 1201.9,386.1 1207.2,371.3 1213.6,356.4 1219.9,339.5 1226.3,320.4 1231.6,305.6 1239.0,291.8 1247.5,281.2 1255.9,277.0 1264.4,269.6 1270.8,266.4" fill="none" stroke="#3cb371" stroke-width="1"/>
<polyline points="0.0,288.5 12.7,299.5 23.3,310.9 40.2,323.5 50.8,330.5 63.5,333.8 79.4,331.0 95.3,329.3 114.4,323.5 131.3,320.8 148.3,318.3 158.9,313.0 180.0,304.1 188.5,299.0 202.0,288.8 214.7,284.2 230.8,273.6 242.7,259.1 253.7,240.5 265.0,226.3 281.3,203.1 299.5,175.3 317.3,152.4 332.6,137.1 347.8,124.4 363.0,114.2 375.8,109.2 391.0,107.1 403.7,110.4 415.3,114.4 431.8,120.8 450.9,120.8 476.3,123.3 494.1,128.4 514.4,128.4 534.8,128.4 544.9,127.1 578.0,125.8 593.2,123.8 616.1,128.4 640.0,130.0 665.8,130.0 671.5,131.5 677.2,136.3 688.6,145.8 700.1,152.5 709.6,158.2 719.2,168.7 728.7,181.1 738.2,195.4 749.7,220.2 755.8,230.5 766.3,255.3 773.9,274.4 785.3,301.1 796.8,323.9 808.2,348.7 817.8,369.7 825.4,386.0 834.3,403.3 844.5,423.6 857.2,444.0 869.9,459.2 880.1,466.9 890.3,471.9 900.4,482.1 913.2,492.3 928.4,502.5 946.2,510.1 957.7,516.2 970.4,522.5 988.2,528.9 1008.6,535.3 1026.4,541.6 1039.1,548.0 1048.0,551.8 1056.9,549.2 1069.6,542.9 1079.8,540.0 1094.8,537.6 1109.7,531.7 1126.0,524.2 1135.6,522.5 1143.8,517.6 1160.0,508.9 1168.3,504.1 1179.3,497.9 1190.3,491.7 1201.3,481.4 1211.0,471.1 1220.6,462.1 1228.9,452.5 1237.1,442.8 1245.4,431.8 1253.6,422.2 1259.1,416.0 1264.7,411.2 1270.9,406.7" fill="none" stroke="#3cb371" stroke-width="1"/>
<polyline points="0.0,442.2 7.4,444.4 15.9,443.3 27.5,434.8 39.2,418.9 48.7,398.8 55.5,387.2 74.0,384.0 93.2,381.2 103.8,377.0 127.0,370.2 151.5,370.8 161.0,352.2 168.4,348.5 180.0,350.7 184.2,351.0 190.2,358.3 196.9,364.2 205.4,370.2 214.7,374.1 224.1,373.6 231.7,372.7 239.3,376.1 247.8,380.0 254.6,376.1 263.1,374.9 270.7,376.1 280.0,371.0 286.8,362.5 291.0,354.1 295.3,343.9 302.0,328.6 309.7,315.1 315.6,303.2 319.8,291.3 325.8,276.1 332.5,259.1 340.2,240.5 342.7,236.3 352.9,221.0 365.6,203.2 378.3,180.3 383.4,176.5 391.5,165.1 398.7,172.7 408.8,179.1 412.7,180.5 425.4,183.1 440.7,181.0 471.2,180.0 494.1,186.9 514.4,188.1 534.8,188.7 544.9,181.8 560.2,179.2 575.4,180.5 603.4,175.4 618.7,170.3 629.5,171.0 639.0,169.1 652.4,167.7 663.9,167.7 670.5,170.6 675.3,185.8 681.0,204.9 688.6,218.3 696.3,231.6 703.3,247.7 711.0,259.1 713.8,270.5 716.7,285.8 719.6,301.1 724.3,318.2 729.1,339.2 733.9,364.0 739.6,388.8 746.6,418.5 753.0,444.0 760.6,471.9 768.2,499.9 775.9,530.5 783.5,555.8 791.1,573.6 801.3,588.9 811.4,604.2 817.8,609.2 824.2,610.0 830.5,606.7 839.4,610.5 849.6,606.7 859.8,586.4 867.4,568.5 872.5,555.9 880.1,545.7 887.7,534.2 894.1,538.0 903.0,548.2 913.2,563.5 923.3,578.7 936.0,592.7 948.8,600.3 955.2,606.5 965.3,615.3 978.1,621.7 990.8,626.3 1006.0,628.9 1021.3,626.8 1031.4,619.2 1040.3,603.9 1046.7,593.7 1054.3,597.5 1064.5,603.1 1074.7,600.1 1080.0,596.9 1088.9,593.2 1094.8,591.7 1111.2,590.7 1118.6,582.8 1127.5,573.9 1134.9,571.0 1143.0,568.0 1151.2,562.1 1160.1,560.6 1166.8,557.9 1191.3,557.6 1198.7,568.0 1206.8,578.4 1215.0,582.1 1223.1,589.5 1231.3,594.7 1239.5,590.7 1246.9,577.6 1255.0,562.1 1262.5,555.4 1270.6,545.4" fill="none" stroke="#3cb371" stroke-width="1"/>
</g>
<g shape-rendering="crispEdges">
<rect x="0" y="271" width="1616" height="2" fill="#ff0000"/>
<rect x="0" y="300" width="1616" height="2" fill="#ff0000"/>
<rect x="0" y="354" width="1616" height="2" fill="#ff8c00"/>
<rect x="0" y="388" width="1616" height="2" fill="#0000ff"/>
<rect x="0" y="419" width="1616" height="2" fill="#0000ff"/>
<rect x="1614" y="26" width="1" height="902" fill="#000"/>
</g>
<line x1="1095" y1="540" x2="1284.1" y2="327.9" stroke="#ff0000" stroke-width="2.8"/>
<polygon points="1288.8,322.7 1286.0,332.3 1279.6,326.6" fill="#ff0000"/>
<polygon points="1282.3,26.8 1292.7,26.8 1287.5,32.2" fill="#000"/>
<g shape-rendering="crispEdges">
<rect x="-2" y="695" width="3" height="27" fill="#00ff00"/>
<rect x="6" y="695" width="3" height="28" fill="#00ff00"/>
<rect x="14" y="695" width="3" height="25" fill="#00ff00"/>
<rect x="22" y="695" width="3" height="23" fill="#00ff00"/>
<rect x="30" y="695" width="3" height="20" fill="#00ff00"/>
<rect x="38" y="695" width="3" height="17" fill="#00ff00"/>
<rect x="46" y="695" width="3" height="14" fill="#00ff00"/>
<rect x="54" y="695" width="3" height="9" fill="#00ff00"/>
<rect x="62" y="695" width="3" height="9" fill="#00ff00"/>
<rect x="70" y="695" width="3" height="9" fill="#00ff00"/>
<rect x="78" y="695" width="3" height="9" fill="#00ff00"/>
<rect x="86" y="695" width="3" height="10" fill="#00ff00"/>
<rect x="94" y="695" width="3" height="10" fill="#00ff00"/>
<rect x="102" y="695" width="3" height="9" fill="#00ff00"/>
<rect x="110" y="695" width="3" height="7" fill="#00ff00"/>
<rect x="118" y="695" width="3" height="5" fill="#00ff00"/>
<rect x="126" y="695" width="3" height="4" fill="#00ff00"/>
<rect x="134" y="695" width="3" height="4" fill="#00ff00"/>
<rect x="142" y="695" width="3" height="4" fill="#00ff00"/>
<rect x="150" y="695" width="3" height="1" fill="#00ff00"/>
<rect x="158" y="693" width="3" height="2" fill="#00ff00"/>
<rect x="166" y="691" width="3" height="4" fill="#00ff00"/>
<rect x="174" y="689" width="3" height="6" fill="#00ff00"/>
<rect x="182" y="686" width="3" height="9" fill="#00ff00"/>
<rect x="190" y="681" width="3" height="14" fill="#00ff00"/>
<rect x="198" y="676" width="3" height="19" fill="#00ff00"/>
<rect x="206" y="673" width="3" height="22" fill="#00ff00"/>
<rect x="214" y="671" width="3" height="24" fill="#00ff00"/>
<rect x="222" y="670" width="3" height="25" fill="#00ff00"/>
<rect x="230" y="668" width="3" height="27" fill="#00ff00"/>
<rect x="238" y="662" width="3" height="33" fill="#00ff00"/>
<rect x="246" y="656" width="3" height="39" fill="#00ff00"/>
<rect x="254" y="650" width="3" height="45" fill="#00ff00"/>
<rect x="262" y="646" width="3" height="49" fill="#00ff00"/>
<rect x="270" y="642" width="3" height="53" fill="#00ff00"/>
<rect x="278" y="640" width="3" height="55" fill="#00ff00"/>
<rect x="286" y="640" width="3" height="55" fill="#00ff00"/>
<rect x="294" y="639" width="3" height="56" fill="#00ff00"/>
<rect x="302" y="640" width="3" height="55" fill="#00ff00"/>
<rect x="310" y="643" width="3" height="52" fill="#00ff00"/>
<rect x="318" y="647" width="3" height="48" fill="#00ff00"/>
<rect x="326" y="651" width="3" height="44" fill="#00ff00"/>
<rect x="334" y="654" width="3" height="41" fill="#00ff00"/>
<rect x="342" y="658" width="3" height="37" fill="#00ff00"/>
<rect x="350" y="660" width="3" height="35" fill="#00ff00"/>
<rect x="358" y="663" width="3" height="32" fill="#00ff00"/>
<rect x="366" y="665" width="3" height="30" fill="#00ff00"/>
<rect x="374" y="667" width="3" height="28" fill="#00ff00"/>
<rect x="382" y="674" width="3" height="21" fill="#00ff00"/>
<rect x="390" y="678" width="3" height="17" fill="#00ff00"/>
<rect x="398" y="682" width="3" height="13" fill="#00ff00"/>
<rect x="406" y="685" width="3" height="10" fill="#00ff00"/>
<rect x="414" y="686" width="3" height="9" fill="#00ff00"/>
<rect x="422" y="687" width="3" height="8" fill="#00ff00"/>
<rect x="430" y="687" width="3" height="8" fill="#00ff00"/>
<rect x="438" y="683" width="3" height="12" fill="#00ff00"/>
<rect x="446" y="680" width="3" height="15" fill="#00ff00"/>
<rect x="454" y="678" width="3" height="17" fill="#00ff00"/>
<rect x="462" y="678" width="3" height="17" fill="#00ff00"/>
<rect x="470" y="679" width="3" height="16" fill="#00ff00"/>
<rect x="478" y="683" width="3" height="12" fill="#00ff00"/>
<rect x="486" y="686" width="3" height="9" fill="#00ff00"/>
<rect x="494" y="689" width="3" height="6" fill="#00ff00"/>
<rect x="502" y="689" width="3" height="6" fill="#00ff00"/>
<rect x="510" y="689" width="3" height="6" fill="#00ff00"/>
<rect x="518" y="688" width="3" height="7" fill="#00ff00"/>
<rect x="526" y="688" width="3" height="7" fill="#00ff00"/>
<rect x="534" y="690" width="3" height="5" fill="#00ff00"/>
<rect x="542" y="691" width="3" height="4" fill="#00ff00"/>
<rect x="550" y="693" width="3" height="2" fill="#00ff00"/>
<rect x="558" y="695" width="3" height="1" fill="#00ff00"/>
<rect x="566" y="695" width="3" height="4" fill="#00ff00"/>
<rect x="574" y="695" width="3" height="2" fill="#00ff00"/>
<rect x="582" y="694" width="3" height="1" fill="#00ff00"/>
<rect x="590" y="694" width="3" height="1" fill="#00ff00"/>
<rect x="598" y="692" width="3" height="3" fill="#00ff00"/>
<rect x="606" y="691" width="3" height="4" fill="#00ff00"/>
<rect x="614" y="690" width="3" height="5" fill="#00ff00"/>
<rect x="622" y="689" width="3" height="6" fill="#00ff00"/>
<rect x="630" y="691" width="3" height="4" fill="#00ff00"/>
<rect x="638" y="692" width="3" height="3" fill="#00ff00"/>
<rect x="646" y="694" width="3" height="1" fill="#00ff00"/>
<rect x="654" y="695" width="3" height="1" fill="#00ff00"/>
<rect x="662" y="695" width="3" height="1" fill="#00ff00"/>
<rect x="670" y="695" width="3" height="4" fill="#00ff00"/>
<rect x="678" y="695" width="3" height="11" fill="#00ff00"/>
<rect x="686" y="695" width="3" height="17" fill="#00ff00"/>
<rect x="694" y="695" width="3" height="20" fill="#00ff00"/>
<rect x="702" y="695" width="3" height="24" fill="#00ff00"/>
<rect x="710" y="695" width="3" height="27" fill="#00ff00"/>
<rect x="718" y="695" width="3" height="36" fill="#00ff00"/>
<rect x="726" y="695" width="3" height="44" fill="#00ff00"/>
<rect x="734" y="695" width="3" height="52" fill="#00ff00"/>
<rect x="742" y="695" width="3" height="59" fill="#00ff00"/>
<rect x="750" y="695" width="3" height="66" fill="#00ff00"/>
<rect x="758" y="695" width="3" height="72" fill="#00ff00"/>
<rect x="766" y="695" width="3" height="77" fill="#00ff00"/>
<rect x="774" y="695" width="3" height="83" fill="#00ff00"/>
<rect x="782" y="695" width="3" height="85" fill="#00ff00"/>
<rect x="790" y="695" width="3" height="85" fill="#00ff00"/>
<rect x="798" y="695" width="3" height="83" fill="#00ff00"/>
<rect x="806" y="695" width="3" height="83" fill="#00ff00"/>
<rect x="814" y="695" width="3" height="83" fill="#00ff00"/>
<rect x="822" y="695" width="3" height="81" fill="#00ff00"/>
<rect x="830" y="695" width="3" height="79" fill="#00ff00"/>
<rect x="838" y="695" width="3" height="77" fill="#00ff00"/>
<rect x="846" y="695" width="3" height="73" fill="#00ff00"/>
<rect x="854" y="695" width="3" height="69" fill="#00ff00"/>
<rect x="862" y="695" width="3" height="64" fill="#00ff00"/>
<rect x="870" y="695" width="3" height="59" fill="#00ff00"/>
<rect x="878" y="695" width="3" height="52" fill="#00ff00"/>
<rect x="886" y="695" width="3" height="47" fill="#00ff00"/>
<rect x="894" y="695" width="3" height="49" fill="#00ff00"/>
<rect x="902" y="695" width="3" height="50" fill="#00ff00"/>
<rect x="910" y="695" width="3" height="54" fill="#00ff00"/>
<rect x="918" y="695" width="3" height="55" fill="#00ff00"/>
<rect x="926" y="695" width="3" height="57" fill="#00ff00"/>
<rect x="934" y="695" width="3" height="56" fill="#00ff00"/>
<rect x="942" y="695" width="3" height="54" fill="#00ff00"/>
<rect x="950" y="695" width="3" height="52" fill="#00ff00"/>
<rect x="958" y="695" width="3" height="52" fill="#00ff00"/>
<rect x="966" y="695" width="3" height="50" fill="#00ff00"/>
<rect x="974" y="695" width="3" height="46" fill="#00ff00"/>
<rect x="982" y="695" width="3" height="45" fill="#00ff00"/>
<rect x="990" y="695" width="3" height="42" fill="#00ff00"/>
<rect x="998" y="695" width="3" height="39" fill="#00ff00"/>
<rect x="1006" y="695" width="3" height="35" fill="#00ff00"/>
<rect x="1014" y="695" width="3" height="31" fill="#00ff00"/>
<rect x="1022" y="695" width="3" height="28" fill="#00ff00"/>
<rect x="1030" y="695" width="3" height="24" fill="#00ff00"/>
<rect x="1038" y="695" width="3" height="21" fill="#00ff00"/>
<rect x="1046" y="695" width="3" height="18" fill="#00ff00"/>
<rect x="1054" y="695" width="3" height="14" fill="#00ff00"/>
<rect x="1062" y="695" width="3" height="10" fill="#00ff00"/>
<rect x="1070" y="695" width="3" height="6" fill="#00ff00"/>
<rect x="1078" y="695" width="3" height="6" fill="#00ff00"/>
<rect x="1086" y="695" width="3" height="9" fill="#00ff00"/>
<rect x="1094" y="695" width="3" height="8" fill="#00ff00"/>
<rect x="1102" y="695" width="3" height="6" fill="#00ff00"/>
<rect x="1110" y="695" width="3" height="4" fill="#00ff00"/>
<rect x="1118" y="695" width="3" height="2" fill="#00ff00"/>
<rect x="1126" y="695" width="3" height="2" fill="#00ff00"/>
<rect x="1134" y="695" width="3" height="1" fill="#00ff00"/>
<rect x="1142" y="692" width="3" height="3" fill="#00ff00"/>
<rect x="1150" y="691" width="3" height="4" fill="#00ff00"/>
<rect x="1158" y="687" width="3" height="8" fill="#00ff00"/>
<rect x="1166" y="686" width="3" height="9" fill="#00ff00"/>
<rect x="1174" y="683" width="3" height="12" fill="#00ff00"/>
<rect x="1182" y="680" width="3" height="15" fill="#00ff00"/>
<rect x="1190" y="677" width="3" height="18" fill="#00ff00"/>
<rect x="1198" y="671" width="3" height="24" fill="#00ff00"/>
<rect x="1206" y="664" width="3" height="31" fill="#00ff00"/>
<rect x="1214" y="660" width="3" height="35" fill="#00ff00"/>
<rect x="1222" y="656" width="3" height="39" fill="#00ff00"/>
<rect x="1230" y="652" width="3" height="43" fill="#00ff00"/>
<rect x="1238" y="650" width="3" height="45" fill="#00ff00"/>
<rect x="1246" y="649" width="3" height="46" fill="#00ff00"/>
<rect x="1254" y="651" width="3" height="44" fill="#00ff00"/>
<rect x="1262" y="652" width="3" height="43" fill="#00ff00"/>
<rect x="1270" y="654" width="3" height="41" fill="#00ff00"/>
</g>
<polyline points="0.0,721.3 30.2,720.8 40.3,718.7 50.4,716.2 65.5,713.7 80.7,708.7 100.8,705.6 126.0,702.4 151.2,700.6 171.4,696.6 186.5,693.5 201.7,689.3 219.3,681.7 239.5,673.4 257.1,665.8 277.3,657.0 294.9,649.4 310.1,644.4 323.9,643.1 335.3,643.9 352.9,648.7 370.6,655.2 388.2,661.5 400.0,667.8 415.1,674.1 430.2,679.7 444.1,682.7 470.6,682.7 475.6,681.7 510.9,683.0 526.0,685.2 536.1,687.7 551.2,689.3 576.5,692.8 591.6,693.8 621.8,693.8 642.0,692.3 662.2,692.3 671.0,693.0 687.4,696.6 702.5,702.4 715.1,707.4 727.7,713.7 740.3,723.8 752.9,733.9 765.5,744.0 778.1,754.0 788.2,761.6 798.3,767.9 808.4,772.2 820.2,776.0 846.6,776.0 865.5,771.2 880.7,765.4 895.8,757.8 910.9,751.5 921.0,749.0 936.1,747.0 981.5,747.0 996.6,742.7 1009.2,740.2 1026.9,733.9 1042.0,727.6 1057.1,721.3 1072.2,715.0 1087.4,709.4 1102.5,705.6 1120.1,701.1 1135.3,699.6 1152.9,697.3 1168.0,694.3 1180.0,690.9 1188.7,687.9 1199.1,685.3 1207.8,681.0 1216.5,677.5 1225.2,672.3 1233.9,668.0 1242.5,663.6 1253.0,660.1 1261.7,656.7 1266.9,654.9 1271.7,654.6" fill="none" stroke="#ff0000" stroke-width="2" shape-rendering="crispEdges" stroke-linejoin="round"/>
<g shape-rendering="crispEdges">
<line x1="0" y1="818.5" x2="1614" y2="818.5" stroke="#000" stroke-width="1" stroke-dasharray="3,3" stroke-dashoffset="2"/>
<line x1="0" y1="858.5" x2="1614" y2="858.5" stroke="#000" stroke-width="1" stroke-dasharray="3,3" stroke-dashoffset="2"/>
<line x1="0" y1="906.5" x2="1614" y2="906.5" stroke="#000" stroke-width="1" stroke-dasharray="3,3" stroke-dashoffset="2"/>
</g>
<polyline points="0.0,879.3 15.1,862.9 27.7,862.1 40.3,861.6 47.9,854.8 56.7,854.8 64.3,860.9 70.6,860.9 78.1,864.9 88.2,864.9 95.3,869.2 103.4,859.9 112.2,854.8 120.5,853.6 128.6,859.1 135.6,864.1 143.7,856.1 150.7,851.5 157.6,852.8 166.4,852.8 176.5,847.8 183.5,846.5 191.6,837.2 199.1,836.9 206.7,835.9 214.3,838.9 221.8,838.9 230.7,837.7 239.5,825.1 248.3,822.0 257.1,820.0 264.7,819.5 271.0,817.5 279.8,822.6 284.9,823.8 297.5,823.8 305.0,827.1 312.6,832.6 319.6,842.7 329.0,842.7 335.3,840.7 343.3,849.0 350.4,844.0 358.0,844.0 365.5,846.5 375.1,845.7 383.2,867.9 390.7,862.9 398.3,864.9 410.1,860.4 423.9,854.1 431.5,853.6 439.8,839.7 447.9,838.4 455.5,841.5 463.0,845.7 471.8,855.3 479.4,863.6 494.5,863.6 503.4,857.3 512.2,850.8 520.5,849.8 528.6,855.3 535.6,860.9 542.4,860.9 550.7,866.7 560.1,866.7 567.1,871.0 575.2,860.4 583.5,848.5 591.6,852.3 601.7,853.6 609.2,853.6 616.8,851.5 623.8,852.0 631.4,864.1 639.5,862.9 645.8,864.1 654.6,864.1 663.9,859.6 671.0,868.7 679.3,886.8 688.6,883.6 697.5,883.6 702.5,885.6 712.1,885.6 719.6,899.4 727.7,899.9 735.3,903.2 742.8,904.0 752.9,907.0 765.5,908.3 775.6,910.0 783.2,905.7 792.0,898.7 799.6,893.6 808.8,897.7 816.4,898.7 823.9,898.7 831.5,891.9 841.6,891.9 847.9,888.8 856.7,883.0 864.3,882.5 871.8,876.2 879.4,867.9 887.0,870.4 895.8,886.8 903.4,887.3 912.2,891.9 927.3,891.9 934.9,886.8 943.7,882.3 951.2,882.3 958.8,886.8 966.4,884.8 975.2,873.7 983.5,876.7 990.3,876.0 999.1,871.7 1006.7,867.9 1023.1,867.9 1031.9,861.6 1039.5,859.1 1048.3,861.6 1055.9,852.3 1063.4,851.0 1071.0,851.0 1079.3,860.9 1087.9,871.0 1095.4,866.7 1103.3,852.8 1111.3,852.8 1118.9,857.8 1127.7,857.1 1135.3,859.1 1143.3,847.0 1151.7,852.8 1159.2,847.0 1166.8,850.3 1175.9,844.1 1185.1,841.7 1191.8,841.7 1199.3,830.9 1207.7,827.3 1215.2,832.9 1223.6,830.4 1231.1,827.3 1239.5,831.2 1247.0,834.2 1254.6,839.9 1271.6,839.9" fill="none" stroke="#1e90ff" stroke-width="2" shape-rendering="crispEdges" stroke-linejoin="round"/>
<g shape-rendering="crispEdges">
<rect x="1615" y="32" width="2" height="1" fill="#000"/>
<rect x="1615" y="65" width="2" height="1" fill="#000"/>
<rect x="1615" y="98" width="2" height="1" fill="#000"/>
<rect x="1615" y="131" width="2" height="1" fill="#000"/>
<rect x="1615" y="164" width="2" height="1" fill="#000"/>
<rect x="1615" y="197" width="2" height="1" fill="#000"/>
<rect x="1615" y="230" width="2" height="1" fill="#000"/>
<rect x="1615" y="263" width="2" height="1" fill="#000"/>
<rect x="1615" y="296" width="2" height="1" fill="#000"/>
<rect x="1615" y="329" width="2" height="1" fill="#000"/>
<rect x="1615" y="362" width="2" height="1" fill="#000"/>
<rect x="1615" y="395" width="2" height="1" fill="#000"/>
<rect x="1615" y="428" width="2" height="1" fill="#000"/>
<rect x="1615" y="461" width="2" height="1" fill="#000"/>
<rect x="1615" y="495" width="2" height="1" fill="#000"/>
<rect x="1615" y="527" width="2" height="1" fill="#000"/>
<rect x="1615" y="560" width="2" height="1" fill="#000"/>
<rect x="1615" y="593" width="2" height="1" fill="#000"/>
<rect x="1615" y="626" width="2" height="1" fill="#000"/>
<rect x="1615" y="633" width="1" height="1" fill="#000"/>
<rect x="1615" y="695" width="1" height="1" fill="#000"/>
<rect x="1615" y="786" width="1" height="1" fill="#000"/>
<rect x="1615" y="791" width="1" height="1" fill="#000"/>
<rect x="1615" y="924" width="1" height="1" fill="#000"/>
<rect x="55" y="928" width="1" height="3" fill="#000"/>
<rect x="119" y="928" width="1" height="3" fill="#000"/>
<rect x="183" y="928" width="1" height="3" fill="#000"/>
<rect x="247" y="928" width="1" height="3" fill="#000"/>
<rect x="311" y="928" width="1" height="3" fill="#000"/>
<rect x="375" y="928" width="1" height="3" fill="#000"/>
<rect x="439" y="928" width="1" height="3" fill="#000"/>
<rect x="503" y="928" width="1" height="3" fill="#000"/>
<rect x="567" y="928" width="1" height="3" fill="#000"/>
<rect x="631" y="928" width="1" height="3" fill="#000"/>
<rect x="695" y="928" width="1" height="3" fill="#000"/>
<rect x="759" y="928" width="1" height="3" fill="#000"/>
<rect x="823" y="928" width="1" height="3" fill="#000"/>
<rect x="887" y="928" width="1" height="3" fill="#000"/>
<rect x="951" y="928" width="1" height="3" fill="#000"/>
<rect x="1015" y="928" width="1" height="3" fill="#000"/>
<rect x="1079" y="928" width="1" height="3" fill="#000"/>
<rect x="1143" y="928" width="1" height="3" fill="#000"/>
<rect x="1207" y="928" width="1" height="3" fill="#000"/>
<rect x="1271" y="928" width="1" height="3" fill="#000"/>
</g>
<g transform="translate(1620,36) skewX(0.05)"><text font-size="10.1" fill="#000" textLength="38" lengthAdjust="spacingAndGlyphs" xml:space="preserve">4225.670</text></g>
<g transform="translate(1620,69) skewX(0.05)"><text font-size="10.1" fill="#000" textLength="38" lengthAdjust="spacingAndGlyphs" xml:space="preserve">4191.670</text></g>
<g transform="translate(1620,102) skewX(0.05)"><text font-size="10.1" fill="#000" textLength="38" lengthAdjust="spacingAndGlyphs" xml:space="preserve">4158.670</text></g>
<g transform="translate(1620,135) skewX(0.05)"><text font-size="10.1" fill="#000" textLength="38" lengthAdjust="spacingAndGlyphs" xml:space="preserve">4125.670</text></g>
<g transform="translate(1620,168) skewX(0.05)"><text font-size="10.1" fill="#000" textLength="38" lengthAdjust="spacingAndGlyphs" xml:space="preserve">4092.670</text></g>
<g transform="translate(1620,201) skewX(0.05)"><text font-size="10.1" fill="#000" textLength="38" lengthAdjust="spacingAndGlyphs" xml:space="preserve">4059.670</text></g>
<g transform="translate(1620,234) skewX(0.05)"><text font-size="10.1" fill="#000" textLength="38" lengthAdjust="spacingAndGlyphs" xml:space="preserve">4025.670</text></g>
<g transform="translate(1620,267) skewX(0.05)"><text font-size="10.1" fill="#000" textLength="38" lengthAdjust="spacingAndGlyphs" xml:space="preserve">3992.670</text></g>
<g transform="translate(1620,300) skewX(0.05)"><text font-size="10.1" fill="#000" textLength="38" lengthAdjust="spacingAndGlyphs" xml:space="preserve">3959.670</text></g>
<g transform="translate(1620,333) skewX(0.05)"><text font-size="10.1" fill="#000" textLength="38" lengthAdjust="spacingAndGlyphs" xml:space="preserve">3926.670</text></g>
<g transform="translate(1620,366) skewX(0.05)"><text font-size="10.1" fill="#000" textLength="38" lengthAdjust="spacingAndGlyphs" xml:space="preserve">3892.670</text></g>
<g transform="translate(1620,399) skewX(0.05)"><text font-size="10.1" fill="#000" textLength="38" lengthAdjust="spacingAndGlyphs" xml:space="preserve">3859.670</text></g>
<g transform="translate(1620,432) skewX(0.05)"><text font-size="10.1" fill="#000" textLength="38" lengthAdjust="spacingAndGlyphs" xml:space="preserve">3826.670</text></g>
<g transform="translate(1620,465) skewX(0.05)"><text font-size="10.1" fill="#000" textLength="38" lengthAdjust="spacingAndGlyphs" xml:space="preserve">3793.670</text></g>
<g transform="translate(1620,499) skewX(0.05)"><text font-size="10.1" fill="#000" textLength="38" lengthAdjust="spacingAndGlyphs" xml:space="preserve">3759.670</text></g>
<g transform="translate(1620,531) skewX(0.05)"><text font-size="10.1" fill="#000" textLength="38" lengthAdjust="spacingAndGlyphs" xml:space="preserve">3726.670</text></g>
<g transform="translate(1620,564) skewX(0.05)"><text font-size="10.1" fill="#000" textLength="38" lengthAdjust="spacingAndGlyphs" xml:space="preserve">3693.670</text></g>
<g transform="translate(1620,597) skewX(0.05)"><text font-size="10.1" fill="#000" textLength="38" lengthAdjust="spacingAndGlyphs" xml:space="preserve">3660.670</text></g>
<g transform="translate(1620,630) skewX(0.05)"><text font-size="10.1" fill="#000" textLength="38" lengthAdjust="spacingAndGlyphs" xml:space="preserve">3627.670</text></g>
<g shape-rendering="crispEdges">
<rect x="1616" y="340" width="46" height="11" fill="#000"/>
<rect x="1616" y="266" width="46" height="11" fill="#ff0000"/>
<rect x="1616" y="295" width="46" height="11" fill="#ff0000"/>
<rect x="1616" y="349" width="46" height="11" fill="#ff8c00"/>
<rect x="1616" y="383" width="46" height="11" fill="#0000ff"/>
<rect x="1616" y="414" width="46" height="11" fill="#0000ff"/>
</g>
<g transform="translate(1620,349) skewX(0.05)"><text font-size="10.1" fill="#fff" textLength="38" lengthAdjust="spacingAndGlyphs" xml:space="preserve">3909.750</text></g>
<g transform="translate(1620,275) skewX(0.05)"><text font-size="10.1" fill="#fff" textLength="38" lengthAdjust="spacingAndGlyphs" xml:space="preserve">3983.585</text></g>
<g transform="translate(1620,304) skewX(0.05)"><text font-size="10.1" fill="#fff" textLength="38" lengthAdjust="spacingAndGlyphs" xml:space="preserve">3954.430</text></g>
<g transform="translate(1620,358) skewX(0.05)"><text font-size="10.1" fill="#fff" textLength="38" lengthAdjust="spacingAndGlyphs" xml:space="preserve">3900.140</text></g>
<g transform="translate(1620,392) skewX(0.05)"><text font-size="10.1" fill="#fff" textLength="38" lengthAdjust="spacingAndGlyphs" xml:space="preserve">3865.958</text></g>
<g transform="translate(1620,423) skewX(0.05)"><text font-size="10.1" fill="#fff" textLength="38" lengthAdjust="spacingAndGlyphs" xml:space="preserve">3834.791</text></g>
<g transform="translate(1618,642) skewX(0.05)"><text font-size="10.1" fill="#000" textLength="32" lengthAdjust="spacingAndGlyphs" xml:space="preserve">66.8576</text></g>
<g transform="translate(1618,699) skewX(0.05)"><text font-size="10.1" fill="#000" textLength="18" lengthAdjust="spacingAndGlyphs" xml:space="preserve">0.00</text></g>
<g transform="translate(1618,784) skewX(0.05)"><text font-size="10.1" fill="#000" textLength="31" lengthAdjust="spacingAndGlyphs" xml:space="preserve">-98.733</text></g>
<g transform="translate(1618,800) skewX(0.05)"><text font-size="10.1" fill="#000" textLength="15" lengthAdjust="spacingAndGlyphs" xml:space="preserve">100</text></g>
<g transform="translate(1618,822) skewX(0.05)"><text font-size="10.1" fill="#000" textLength="10" lengthAdjust="spacingAndGlyphs" xml:space="preserve">80</text></g>
<g transform="translate(1618,862) skewX(0.05)"><text font-size="10.1" fill="#000" textLength="10" lengthAdjust="spacingAndGlyphs" xml:space="preserve">50</text></g>
<g transform="translate(1618,910) skewX(0.05)"><text font-size="10.1" fill="#000" textLength="10" lengthAdjust="spacingAndGlyphs" xml:space="preserve">15</text></g>
<g transform="translate(1618,924) skewX(0.05)"><text font-size="10.1" fill="#000" textLength="5" lengthAdjust="spacingAndGlyphs" xml:space="preserve">0</text></g>
<g transform="translate(6,38) skewX(0.05)"><text font-size="10.1" fill="#000" textLength="212" lengthAdjust="spacingAndGlyphs" xml:space="preserve">SP500-,H4  3909.750 3909.750 3909.750 3909.750</text></g>
<rect x="0" y="33" width="1" height="1" fill="#000"/>
<g transform="translate(-4.4,644) skewX(0.05)"><text font-size="10.1" fill="#000" textLength="137.4" lengthAdjust="spacingAndGlyphs" xml:space="preserve">MACD(12,26,9) 44.1927 43.6178</text></g>
<g transform="translate(0.6,802) skewX(0.05)"><text font-size="10.1" fill="#000" textLength="61.8" lengthAdjust="spacingAndGlyphs" xml:space="preserve">SI(14) 63.9322</text></g>
<rect x="0" y="800" width="1" height="1" fill="#444"/>
<g transform="translate(3.8,940) skewX(0.05)"><text font-size="10.1" fill="#000" textLength="41.1" lengthAdjust="spacingAndGlyphs" xml:space="preserve">May 2022</text></g>
<g transform="translate(54.4,940) skewX(0.05)"><text font-size="10.1" fill="#000" textLength="56.8" lengthAdjust="spacingAndGlyphs" xml:space="preserve">23 May 16:00</text></g>
<g transform="translate(118.4,940) skewX(0.05)"><text font-size="10.1" fill="#000" textLength="56.8" lengthAdjust="spacingAndGlyphs" xml:space="preserve">25 May 00:00</text></g>
<g transform="translate(182.4,940) skewX(0.05)"><text font-size="10.1" fill="#000" textLength="56.8" lengthAdjust="spacingAndGlyphs" xml:space="preserve">26 May 08:00</text></g>
<g transform="translate(246.4,940) skewX(0.05)"><text font-size="10.1" fill="#000" textLength="56.8" lengthAdjust="spacingAndGlyphs" xml:space="preserve">27 May 16:00</text></g>
<g transform="translate(310.4,940) skewX(0.05)"><text font-size="10.1" fill="#000" textLength="56.8" lengthAdjust="spacingAndGlyphs" xml:space="preserve">31 May 00:00</text></g>
<g transform="translate(374.4,940) skewX(0.05)"><text font-size="10.1" fill="#000" textLength="47.6" lengthAdjust="spacingAndGlyphs" xml:space="preserve">1 Jun 08:00</text></g>
<g transform="translate(438.4,940) skewX(0.05)"><text font-size="10.1" fill="#000" textLength="47.6" lengthAdjust="spacingAndGlyphs" xml:space="preserve">2 Jun 16:00</text></g>
<g transform="translate(502.4,940) skewX(0.05)"><text font-size="10.1" fill="#000" textLength="47.6" lengthAdjust="spacingAndGlyphs" xml:space="preserve">6 Jun 00:00</text></g>
<g transform="translate(566.4,940) skewX(0.05)"><text font-size="10.1" fill="#000" textLength="47.6" lengthAdjust="spacingAndGlyphs" xml:space="preserve">7 Jun 08:00</text></g>
<g transform="translate(630.4,940) skewX(0.05)"><text font-size="10.1" fill="#000" textLength="47.6" lengthAdjust="spacingAndGlyphs" xml:space="preserve">8 Jun 16:00</text></g>
<g transform="translate(694.4,940) skewX(0.05)"><text font-size="10.1" fill="#000" textLength="52.2" lengthAdjust="spacingAndGlyphs" xml:space="preserve">10 Jun 00:00</text></g>
<g transform="translate(758.4,940) skewX(0.05)"><text font-size="10.1" fill="#000" textLength="52.2" lengthAdjust="spacingAndGlyphs" xml:space="preserve">13 Jun 08:00</text></g>
<g transform="translate(822.4,940) skewX(0.05)"><text font-size="10.1" fill="#000" textLength="52.2" lengthAdjust="spacingAndGlyphs" xml:space="preserve">14 Jun 16:00</text></g>
<g transform="translate(886.4,940) skewX(0.05)"><text font-size="10.1" fill="#000" textLength="52.2" lengthAdjust="spacingAndGlyphs" xml:space="preserve">16 Jun 00:00</text></g>
<g transform="translate(950.4,940) skewX(0.05)"><text font-size="10.1" fill="#000" textLength="52.2" lengthAdjust="spacingAndGlyphs" xml:space="preserve">17 Jun 08:00</text></g>
<g transform="translate(1014.4,940) skewX(0.05)"><text font-size="10.1" fill="#000" textLength="52.2" lengthAdjust="spacingAndGlyphs" xml:space="preserve">20 Jun 16:00</text></g>
<g transform="translate(1078.4,940) skewX(0.05)"><text font-size="10.1" fill="#000" textLength="52.2" lengthAdjust="spacingAndGlyphs" xml:space="preserve">22 Jun 00:00</text></g>
<g transform="translate(1142.4,940) skewX(0.05)"><text font-size="10.1" fill="#000" textLength="52.2" lengthAdjust="spacingAndGlyphs" xml:space="preserve">23 Jun 08:00</text></g>
<g transform="translate(1206.4,940) skewX(0.05)"><text font-size="10.1" fill="#000" textLength="52.2" lengthAdjust="spacingAndGlyphs" xml:space="preserve">24 Jun 16:00</text></g>
<g transform="translate(1270.4,940) skewX(0.05)"><text font-size="10.1" fill="#000" textLength="52.2" lengthAdjust="spacingAndGlyphs" xml:space="preserve">27 Jun 20:30</text></g>
<g shape-rendering="crispEdges">
<rect x="0" y="0" width="1666" height="22" fill="#f0f0f0"/>
<rect x="0" y="22" width="1666" height="1" fill="#a0a0a0"/>
<rect x="0" y="23" width="1666" height="1" fill="#696969"/>
<rect x="1664" y="24" width="1" height="920" fill="#f2f2f2"/>
<rect x="1665" y="24" width="1" height="920" fill="#d6d6d6"/>
<rect x="255" y="0" width="25" height="21" fill="#f9f9f9"/>
<rect x="407" y="0" width="24" height="21" fill="#f9f9f9"/>
<rect x="435" y="0" width="25" height="21" fill="#f9f9f9"/>
<rect x="595" y="0" width="25" height="21" fill="#f9f9f9"/>
<rect x="1041" y="0" width="25" height="21" fill="#f9f9f9"/>
<rect x="216" y="0" width="1" height="21" fill="#9a9a9a"/>
<rect x="254" y="0" width="1" height="21" fill="#9a9a9a"/>
<rect x="311" y="0" width="1" height="21" fill="#9a9a9a"/>
<rect x="401" y="0" width="1" height="21" fill="#9a9a9a"/>
<rect x="406" y="0" width="1" height="21" fill="#9a9a9a"/>
<rect x="434" y="0" width="1" height="21" fill="#9a9a9a"/>
<rect x="463" y="0" width="1" height="21" fill="#9a9a9a"/>
<rect x="584" y="0" width="1" height="21" fill="#9a9a9a"/>
<rect x="594" y="0" width="1" height="21" fill="#9a9a9a"/>
<rect x="651" y="0" width="1" height="21" fill="#9a9a9a"/>
<rect x="890" y="0" width="1" height="21" fill="#9a9a9a"/>
<rect x="1040" y="0" width="1" height="21" fill="#9a9a9a"/>
<rect x="1151" y="0" width="1" height="21" fill="#9a9a9a"/>
<rect x="217" y="0" width="1" height="21" fill="#fdfdfd"/>
<rect x="585" y="0" width="1" height="21" fill="#fdfdfd"/>
<rect x="891" y="0" width="1" height="21" fill="#fdfdfd"/>
<rect x="220" y="0" width="3" height="1" fill="#a8a8a8"/>
<rect x="220" y="2" width="3" height="1" fill="#a8a8a8"/>
<rect x="220" y="4" width="3" height="1" fill="#a8a8a8"/>
<rect x="220" y="6" width="3" height="1" fill="#a8a8a8"/>
<rect x="220" y="8" width="3" height="1" fill="#a8a8a8"/>
<rect x="220" y="10" width="3" height="1" fill="#a8a8a8"/>
<rect x="220" y="12" width="3" height="1" fill="#a8a8a8"/>
<rect x="220" y="14" width="3" height="1" fill="#a8a8a8"/>
<rect x="220" y="16" width="3" height="1" fill="#a8a8a8"/>
<rect x="220" y="18" width="3" height="1" fill="#a8a8a8"/>
<rect x="588" y="0" width="3" height="1" fill="#a8a8a8"/>
<rect x="588" y="2" width="3" height="1" fill="#a8a8a8"/>
<rect x="588" y="4" width="3" height="1" fill="#a8a8a8"/>
<rect x="588" y="6" width="3" height="1" fill="#a8a8a8"/>
<rect x="588" y="8" width="3" height="1" fill="#a8a8a8"/>
<rect x="588" y="10" width="3" height="1" fill="#a8a8a8"/>
<rect x="588" y="12" width="3" height="1" fill="#a8a8a8"/>
<rect x="588" y="14" width="3" height="1" fill="#a8a8a8"/>
<rect x="588" y="16" width="3" height="1" fill="#a8a8a8"/>
<rect x="588" y="18" width="3" height="1" fill="#a8a8a8"/>
<rect x="894" y="0" width="3" height="1" fill="#a8a8a8"/>
<rect x="894" y="2" width="3" height="1" fill="#a8a8a8"/>
<rect x="894" y="4" width="3" height="1" fill="#a8a8a8"/>
<rect x="894" y="6" width="3" height="1" fill="#a8a8a8"/>
<rect x="894" y="8" width="3" height="1" fill="#a8a8a8"/>
<rect x="894" y="10" width="3" height="1" fill="#a8a8a8"/>
<rect x="894" y="12" width="3" height="1" fill="#a8a8a8"/>
<rect x="894" y="14" width="3" height="1" fill="#a8a8a8"/>
<rect x="894" y="16" width="3" height="1" fill="#a8a8a8"/>
<rect x="894" y="18" width="3" height="1" fill="#a8a8a8"/>
</g>
<g shape-rendering="crispEdges" fill="#5a5a5a">
<rect x="234" y="4" width="1" height="14" fill="#5a5a5a"/>
<rect x="232" y="15" width="14" height="1" fill="#5a5a5a"/>
<rect x="233" y="5" width="3" height="1" fill="#5a5a5a"/>
<rect x="244" y="14" width="1" height="3" fill="#5a5a5a"/>
<rect x="245" y="15" width="1" height="1" fill="#5a5a5a"/>
</g>
<g shape-rendering="crispEdges">
<rect x="240" y="5" width="1" height="9" fill="#0a8a0a"/>
<rect x="241" y="6" width="3" height="1" fill="#0a8a0a"/>
<rect x="238" y="12" width="2" height="1" fill="#0a8a0a"/>
</g>
<g shape-rendering="crispEdges" fill="#5a5a5a">
<rect x="262" y="4" width="1" height="14" fill="#5a5a5a"/>
<rect x="260" y="15" width="14" height="1" fill="#5a5a5a"/>
<rect x="261" y="5" width="3" height="1" fill="#5a5a5a"/>
<rect x="272" y="14" width="1" height="3" fill="#5a5a5a"/>
<rect x="273" y="15" width="1" height="1" fill="#5a5a5a"/>
</g>
<g shape-rendering="crispEdges">
<rect x="268" y="2" width="1" height="12" fill="#0a8a0a"/>
<rect x="266" y="4" width="5" height="8" fill="#0a9a0a"/>
<rect x="267" y="5" width="3" height="6" fill="#4be04b"/>
</g>
<g shape-rendering="crispEdges" fill="#5a5a5a">
<rect x="290" y="4" width="1" height="14" fill="#5a5a5a"/>
<rect x="288" y="15" width="14" height="1" fill="#5a5a5a"/>
<rect x="289" y="5" width="3" height="1" fill="#5a5a5a"/>
<rect x="300" y="14" width="1" height="3" fill="#5a5a5a"/>
<rect x="301" y="15" width="1" height="1" fill="#5a5a5a"/>
</g>
<path d="M289,12.8 C291,10 293,7.2 295,7.2 C297,7.2 299,10 301.5,11.2" fill="none" stroke="#1a8a1a" stroke-width="1.3"/>
<line x1="329.8" y1="11.6" x2="334.4" y2="16.4" stroke="#a87410" stroke-width="3.2"/>
<line x1="329.8" y1="11.6" x2="334" y2="16" stroke="#f4d640" stroke-width="1.7"/>
<circle cx="326" cy="7.8" r="5.4" fill="#d8eefb" stroke="#3b82c9" stroke-width="1.15"/>
<line x1="323" y1="7.9" x2="329" y2="7.9" stroke="#3a88b0" stroke-width="1.7"/>
<line x1="326" y1="4.9" x2="326" y2="10.9" stroke="#3a88b0" stroke-width="1.7"/>
<line x1="357.8" y1="11.6" x2="362.4" y2="16.4" stroke="#a87410" stroke-width="3.2"/>
<line x1="357.8" y1="11.6" x2="362" y2="16" stroke="#f4d640" stroke-width="1.7"/>
<circle cx="354" cy="7.8" r="5.4" fill="#d8eefb" stroke="#3b82c9" stroke-width="1.15"/>
<line x1="351" y1="7.9" x2="357" y2="7.9" stroke="#3a88b0" stroke-width="1.7"/>
<g shape-rendering="crispEdges">
<rect x="376" y="2" width="8" height="8" fill="#3ca41c"/>
<rect x="376" y="2" width="8" height="2" fill="#2e8e10"/>
<rect x="377" y="3" width="1" height="1" fill="#d0e8d0"/>
<rect x="377" y="5" width="6" height="4" fill="#fff"/>
<rect x="378" y="6" width="4" height="1" fill="#a8dc98"/>
<rect x="378" y="8" width="4" height="1" fill="#3ca41c"/>
<rect x="384" y="2" width="8" height="8" fill="#2858dc"/>
<rect x="384" y="2" width="8" height="2" fill="#1838b8"/>
<rect x="385" y="3" width="1" height="1" fill="#d0e8d0"/>
<rect x="385" y="5" width="6" height="4" fill="#fff"/>
<rect x="386" y="6" width="4" height="1" fill="#a8c8f0"/>
<rect x="386" y="8" width="4" height="1" fill="#2858dc"/>
<rect x="376" y="10" width="8" height="8" fill="#2858dc"/>
<rect x="376" y="10" width="8" height="2" fill="#1838b8"/>
<rect x="377" y="11" width="1" height="1" fill="#d0e8d0"/>
<rect x="377" y="13" width="6" height="4" fill="#fff"/>
<rect x="378" y="14" width="4" height="1" fill="#a8c8f0"/>
<rect x="378" y="16" width="4" height="1" fill="#2858dc"/>
<rect x="384" y="10" width="8" height="8" fill="#3ca41c"/>
<rect x="384" y="10" width="8" height="2" fill="#2e8e10"/>
<rect x="385" y="11" width="1" height="1" fill="#d0e8d0"/>
<rect x="385" y="13" width="6" height="4" fill="#fff"/>
<rect x="386" y="14" width="4" height="1" fill="#a8dc98"/>
<rect x="386" y="16" width="4" height="1" fill="#3ca41c"/>
</g>
<g shape-rendering="crispEdges" fill="#5a5a5a">
<rect x="414" y="4" width="1" height="14" fill="#5a5a5a"/>
<rect x="412" y="15" width="14" height="1" fill="#5a5a5a"/>
<rect x="413" y="5" width="3" height="1" fill="#5a5a5a"/>
<rect x="424" y="14" width="1" height="3" fill="#5a5a5a"/>
<rect x="425" y="15" width="1" height="1" fill="#5a5a5a"/>
</g>
<polygon points="419.5,6.5 423.5,9.5 419.5,12.5" fill="#8ee08e" stroke="#1a9a1a" stroke-width="1"/>
<g shape-rendering="crispEdges" fill="#5a5a5a">
<rect x="442" y="4" width="1" height="14" fill="#5a5a5a"/>
<rect x="440" y="15" width="14" height="1" fill="#5a5a5a"/>
<rect x="441" y="5" width="3" height="1" fill="#5a5a5a"/>
<rect x="452" y="14" width="1" height="3" fill="#5a5a5a"/>
<rect x="453" y="15" width="1" height="1" fill="#5a5a5a"/>
</g>
<g shape-rendering="crispEdges">
<rect x="448" y="4" width="1" height="11" fill="#2060c0"/>
<rect x="450" y="9" width="4" height="1" fill="#d04010"/>
<rect x="451" y="8" width="1" height="3" fill="#d04010"/>
</g>
<polygon points="449.8,9.5 452.5,7.3 452.5,11.7" fill="#d04010"/>
<path d="M473.5,3.5 h7 l3.5,3.5 v8.5 h-10.5 z" fill="#fafafa" stroke="#8a8a8a" stroke-width="1"/>
<path d="M480.5,3.5 v3.5 h3.5" fill="none" stroke="#8a8a8a" stroke-width="1"/>
<text x="475.5" y="12" font-size="7" fill="#555">f</text>
<path d="M481.5,8.5 h4 v3.5 h3.5 v4 h-3.5 v3.5 h-4 v-3.5 h-3.5 v-4 h3.5 z" fill="#22c022" stroke="#0a7a0a" stroke-width="1"/>
<polygon points="495,9 501,9 498,12.2" fill="#000"/>
<polygon points="534,9 540,9 537,12.2" fill="#000"/>
<polygon points="573,9 579,9 576,12.2" fill="#000"/>
<polygon points="879,9 885,9 882,12.2" fill="#000"/>
<defs><linearGradient id="clk" x1="0" y1="0" x2="0.3" y2="1"><stop offset="0" stop-color="#3f8cec"/><stop offset="1" stop-color="#0c3fa4"/></linearGradient></defs>
<circle cx="519" cy="9.8" r="6.5" fill="#fff" stroke="url(#clk)" stroke-width="2.7"/>
<circle cx="519" cy="9.8" r="4.4" fill="#fbfdff" stroke="#b8c8e4" stroke-width="0.7"/>
<path d="M518.8,5.8 v4.2 h2.8" fill="none" stroke="#333" stroke-width="1.1"/>
<g shape-rendering="crispEdges">
<rect x="550" y="3" width="16" height="14" fill="#3a6cc8"/>
<rect x="551" y="6" width="14" height="10" fill="#fff"/>
<rect x="551" y="10" width="14" height="1" fill="#3a6cc8"/>
</g>
<polyline points="552,9 555,8 557,9 560,7.2 562,8 564.5,7" fill="none" stroke="#c03010" stroke-width="1.2"/>
<polyline points="552,14.5 555,13.5 557,14.5 560,12.5 562,14 564.5,13" fill="none" stroke="#20a020" stroke-width="1.2"/>
<path d="M602,3 L602,15 L604.8,12.4 L606.8,17 L608.6,16.2 L606.6,11.8 L610.2,11.6 Z" fill="#222"/>
<g shape-rendering="crispEdges">
<rect x="634" y="3" width="1" height="6" fill="#444"/>
<rect x="634" y="12" width="1" height="6" fill="#444"/>
<rect x="627" y="10" width="6" height="1" fill="#444"/>
<rect x="636" y="10" width="6" height="1" fill="#444"/>
<rect x="668" y="4" width="1" height="13" fill="#555"/>
<rect x="691" y="10" width="13" height="1" fill="#555"/>
</g>
<line x1="718.8" y1="16.8" x2="731" y2="4.8" stroke="#555" stroke-width="1.2"/>
<g stroke="#555" stroke-width="1" fill="none">
<line x1="744.5" y1="14.5" x2="757.5" y2="4"/><line x1="746.5" y1="17" x2="759.5" y2="7"/><line x1="745" y1="11" x2="755" y2="3"/>
<line x1="748.5" y1="8" x2="749.5" y2="16"/><line x1="751.5" y1="6" x2="752.5" y2="14"/><line x1="754.5" y1="4" x2="755.5" y2="12"/>
</g>
<text x="755" y="19.5" font-size="7" font-weight="bold" fill="#333">E</text>
<g shape-rendering="crispEdges">
<rect x="774" y="3" width="1" height="1" fill="#555"/>
<rect x="776" y="3" width="1" height="1" fill="#555"/>
<rect x="778" y="3" width="1" height="1" fill="#555"/>
<rect x="780" y="3" width="1" height="1" fill="#555"/>
<rect x="782" y="3" width="1" height="1" fill="#555"/>
<rect x="784" y="3" width="1" height="1" fill="#555"/>
<rect x="786" y="3" width="1" height="1" fill="#555"/>
<rect x="774" y="6" width="1" height="1" fill="#555"/>
<rect x="776" y="6" width="1" height="1" fill="#555"/>
<rect x="778" y="6" width="1" height="1" fill="#555"/>
<rect x="780" y="6" width="1" height="1" fill="#555"/>
<rect x="782" y="6" width="1" height="1" fill="#555"/>
<rect x="784" y="6" width="1" height="1" fill="#555"/>
<rect x="786" y="6" width="1" height="1" fill="#555"/>
<rect x="774" y="9" width="1" height="1" fill="#555"/>
<rect x="776" y="9" width="1" height="1" fill="#555"/>
<rect x="778" y="9" width="1" height="1" fill="#555"/>
<rect x="780" y="9" width="1" height="1" fill="#555"/>
<rect x="782" y="9" width="1" height="1" fill="#555"/>
<rect x="784" y="9" width="1" height="1" fill="#555"/>
<rect x="786" y="9" width="1" height="1" fill="#555"/>
<rect x="774" y="12" width="1" height="1" fill="#555"/>
<rect x="776" y="12" width="1" height="1" fill="#555"/>
<rect x="778" y="12" width="1" height="1" fill="#555"/>
<rect x="780" y="12" width="1" height="1" fill="#555"/>
<rect x="782" y="12" width="1" height="1" fill="#555"/>
<rect x="784" y="12" width="1" height="1" fill="#555"/>
<rect x="786" y="12" width="1" height="1" fill="#555"/>
<rect x="774" y="15" width="1" height="1" fill="#555"/>
<rect x="776" y="15" width="1" height="1" fill="#555"/>
<rect x="778" y="15" width="1" height="1" fill="#555"/>
<rect x="780" y="15" width="1" height="1" fill="#555"/>
<rect x="782" y="15" width="1" height="1" fill="#555"/>
<rect x="784" y="15" width="1" height="1" fill="#555"/>
<rect x="786" y="15" width="1" height="1" fill="#555"/>
</g>
<text x="783" y="19.5" font-size="7" font-weight="bold" fill="#333">F</text>
<text x="808.6" y="15" font-size="13" fill="#555" text-anchor="middle">A</text>
<rect x="830.5" y="3.5" width="12" height="13" fill="none" stroke="#555" stroke-width="1" stroke-dasharray="1,1" shape-rendering="crispEdges"/>
<text x="836.6" y="15" font-size="12" font-weight="bold" fill="#555" text-anchor="middle">T</text>
<polygon points="862,4.5 865.5,7.5 862,10.5 858.5,7.5" fill="#444"/>
<polygon points="868.5,10 872,13 868.5,16 865,13" fill="#444"/>
<polyline points="859,11.5 861,14 866,8.5" fill="none" stroke="#444" stroke-width="1.3"/>
<g transform="translate(912,14) skewX(0.05)"><text font-size="10.1" fill="#3c3c3c" text-anchor="middle">M1</text></g>
<g transform="translate(940,14) skewX(0.05)"><text font-size="10.1" fill="#3c3c3c" text-anchor="middle">M5</text></g>
<g transform="translate(968.3,14) skewX(0.05)"><text font-size="10.1" fill="#3c3c3c" text-anchor="middle">M15</text></g>
<g transform="translate(996.4,14) skewX(0.05)"><text font-size="10.1" fill="#3c3c3c" text-anchor="middle">M30</text></g>
<g transform="translate(1024.5,14) skewX(0.05)"><text font-size="10.1" fill="#3c3c3c" text-anchor="middle">H1</text></g>
<g transform="translate(1051.7,14) skewX(0.05)"><text font-size="10.1" fill="#3c3c3c" text-anchor="middle">H4</text></g>
<g transform="translate(1080.5,14) skewX(0.05)"><text font-size="10.1" fill="#3c3c3c" text-anchor="middle">D1</text></g>
<g transform="translate(1109.2,14) skewX(0.05)"><text font-size="10.1" fill="#3c3c3c" text-anchor="middle">W1</text></g>
<g transform="translate(1136,14) skewX(0.05)"><text font-size="10.1" fill="#3c3c3c" text-anchor="middle">MN</text></g>
<line x1="1618.3" y1="11" x2="1614" y2="15" stroke="#2a5ccc" stroke-width="2.6" stroke-linecap="round"/>
<circle cx="1621.5" cy="7.5" r="4" fill="#f4f4f8" stroke="#2a5ccc" stroke-width="1.4"/>
<path d="M1638.6,12 a5.6,4.6 0 1,1 5,4.6 l-2.4,2.2 l0.2,-2.6 a5.6,4.6 0 0,1 -2.8,-4.2 z" fill="#e4e4ec" stroke="#a8a8a8" stroke-width="0.9"/>
<defs><linearGradient id="bd" x1="0" y1="0" x2="0" y2="1"><stop offset="0" stop-color="#e85030"/><stop offset="1" stop-color="#d82010"/></linearGradient></defs>
<circle cx="1652.5" cy="7.6" r="8.2" fill="url(#bd)"/>
<text x="1651.8" y="12.4" font-size="12.5" fill="#fff" text-anchor="middle">1</text>
<g shape-rendering="crispEdges">
<rect x="0" y="5" width="2" height="4" fill="#f8f8f8"/>
<rect x="0" y="4" width="1" height="1" fill="#9a9a9a"/>
<rect x="1" y="5" width="1" height="1" fill="#8a8a8a"/>
</g>
<path d="M-2,8.5 h4 v3.5 h4 v4 h-4 v4 h-4 z" fill="#1cc81c" stroke="#0a8a0a" stroke-width="1"/>
<defs><linearGradient id="gold" x1="0" y1="0" x2="1" y2="1"><stop offset="0" stop-color="#f8d030"/><stop offset="0.5" stop-color="#f0b818"/><stop offset="1" stop-color="#d89a10"/></linearGradient></defs>
<path d="M57.2,11.6 L64.4,17.6 L72.8,11 L72.8,9.6 L64.4,15.4 L57.2,10.4 Z" fill="#c08818" stroke="#9a6410" stroke-width="0.8"/>
<path d="M62.2,3 L72.4,9.8 L64.4,15.6 L57.4,10.6 C59.6,8.8 61.4,6 62.2,3 Z" fill="url(#gold)" stroke="#a86c10" stroke-width="0.9"/>
<path d="M62.6,4.6 C62,7 60.6,9.2 59,10.6" fill="none" stroke="#fbe89a" stroke-width="1"/>
<path d="M87.5,3 l6,-1.2 l4.6,1.4 v7.6 h-10.6 z" fill="#1e9cf0" stroke="#1878d0" stroke-width="0.8"/>
<path d="M90.2,2.8 v8 " stroke="#8fd4ff" stroke-width="1"/>
<rect x="92" y="5" width="5" height="1.4" fill="#d8f0ff"/>
<path d="M87.5,17.5 a3,3 0 0,1 0.5,-6 a3.6,3.6 0 0,1 6.4,-1.2 a3.2,3.2 0 0,1 5,2.2 a2.6,2.6 0 0,1 -0.6,5 z" fill="#f2f5fb" stroke="#5a7cb8" stroke-width="1"/>
<g fill="none" stroke-width="1.3">
<path d="M121.2,2.4 a7.6,7.6 0 0,0 0,15.2" stroke="#6a8cd8" opacity="0.6"/>
<path d="M121.2,4.9 a5.1,5.1 0 0,0 0,10.2" stroke="#6a8cd8" opacity="0.7"/>
<path d="M121.2,2.4 a7.6,7.6 0 0,1 0,15.2" stroke="#78b078" opacity="0.65"/>
<path d="M121.2,4.9 a5.1,5.1 0 0,1 0,10.2" stroke="#78b078" opacity="0.7"/>
</g>
<path d="M121.2,10 L128,6.5 A7.6,7.6 0 0,1 121.2,17.6 Z" fill="#8cc88c" opacity="0.55"/>
<circle cx="121.2" cy="9.6" r="2" fill="#2050c8"/>
<line x1="121.6" y1="10" x2="121.6" y2="17.4" stroke="#18a018" stroke-width="1.6"/>
<path d="M141,9 L155.4,8.6 L151.8,17.6 L149.4,17.4 Z" fill="#f8e468" stroke="#d0a020" stroke-width="0.9"/>
<path d="M140.4,7.4 C140.4,5.6 143,5.2 144.4,5.6 C144.8,2.8 147.2,2 149,2.2 C151,2.4 152.4,3.6 152.6,5 C154.6,4.6 156.2,5.2 156,6.6 C155.6,8.6 151,9.8 147.6,9.6 C144,9.6 140.6,9 140.4,7.4 Z" fill="#5aaee0" stroke="#2c7cb4" stroke-width="0.8"/>
<path d="M145.2,5.8 C146,3.6 149.6,3.2 151.6,5" fill="none" stroke="#b4e0f8" stroke-width="1"/>
<circle cx="152.6" cy="13.6" r="4.2" fill="#e02810" stroke="#b01808" stroke-width="0.6"/>
<rect x="151" y="12" width="3.2" height="3.2" fill="#fff"/>
<g transform="translate(9,3.1) scale(1,0.93)" fill="none" stroke="#000" stroke-width="1.05" stroke-linecap="square">
<path d="M3.6,0 v1.6"/>
<path d="M0.8,2 h6"/>
<path d="M2.2,3 l0.6,1.6"/>
<path d="M5.4,3 l-0.6,1.6"/>
<path d="M0.2,5.2 h7.2"/>
<path d="M0.8,7.4 h6"/>
<path d="M3.8,5.2 v6 l-1,-0.4"/>
<path d="M3,8.4 l-2.6,2.4"/>
<path d="M4.8,8.6 l1.8,1.8"/>
<path d="M12.4,0.4 l-3.6,1.6 v4.6 q0,3 -1.4,4.8"/>
<path d="M8.8,5.2 h4.4"/>
<path d="M11.2,5.2 v6.4"/>
</g>
<g transform="translate(22.4,3.1) scale(1,0.93)" fill="none" stroke="#000" stroke-width="1.05" stroke-linecap="square">
<path d="M1.2,0.4 l1.2,1.6"/>
<path d="M0.2,4.2 h2.2 v5.4 l1.8,-1.4"/>
<path d="M4.6,1.6 h6.4"/>
<path d="M8,1.6 v9 q0,1 -2,0.8"/>
</g>
<g transform="translate(33.4,3.1) scale(1,0.93)" fill="none" stroke="#000" stroke-width="1.05" stroke-linecap="square">
<path d="M3.4,0 l1,1.6"/>
<path d="M8.4,0 l-1,1.6"/>
<path d="M2,2.6 h8 v4.6 h-8 z"/>
<path d="M2,4.9 h8"/>
<path d="M0.4,9.2 h11.2"/>
<path d="M6,2.6 v9.4"/>
</g>
<g transform="translate(162.4,3.3) scale(1,0.93)" fill="none" stroke="#000" stroke-width="1.05" stroke-linecap="square">
<path d="M4.6,0 l-1,1.8"/>
<path d="M1.4,2 h7.2 v9.4 h-7.2 z"/>
<path d="M1.4,5.1 h7.2"/>
<path d="M1.4,8.2 h7.2"/>
</g>
<g transform="translate(173.4,3.3) scale(1,0.93)" fill="none" stroke="#000" stroke-width="1.05" stroke-linecap="square">
<path d="M0.6,1.6 h4.4"/>
<path d="M0,4.6 h5.8"/>
<path d="M2.6,4.8 l-1.8,4.8 l4.2,-0.8"/>
<path d="M4.2,7.4 l1.2,2.6"/>
<path d="M6.4,3 h4.8 q0.2,6 -0.8,8.2 l-1.4,-0.6"/>
<path d="M8.6,0.2 q0,7 -2.8,11"/>
</g>
<g transform="translate(185.4,3.3) scale(1,0.93)" fill="none" stroke="#000" stroke-width="1.05" stroke-linecap="square">
<path d="M5.6,0 v1.8"/>
<path d="M0.4,2.4 h10.8"/>
<path d="M3.6,3.6 l-2.4,2.6"/>
<path d="M7.8,3.6 l2.6,2.4"/>
<path d="M8.4,5.8 q-2.4,4 -8,5.6"/>
<path d="M3,5.8 q2.6,4 8.4,5.6"/>
</g>
<g transform="translate(197.2,3.3) scale(1,0.93)" fill="none" stroke="#000" stroke-width="1.05" stroke-linecap="square">
<path d="M2.4,0.4 h6.4 v4.4 h-6.4 z"/>
<path d="M2.4,2.6 h6.4"/>
<path d="M3,5.4 q-1,1.6 -2.8,2.8"/>
<path d="M2.2,6.6 h8 q0.2,4 -1,5 l-1.4,-0.6"/>
<path d="M5,6.8 q-1,2.6 -3.6,4.4"/>
<path d="M7.6,6.8 q-1,3 -3.4,4.8"/>
</g>
</svg></body></html>
